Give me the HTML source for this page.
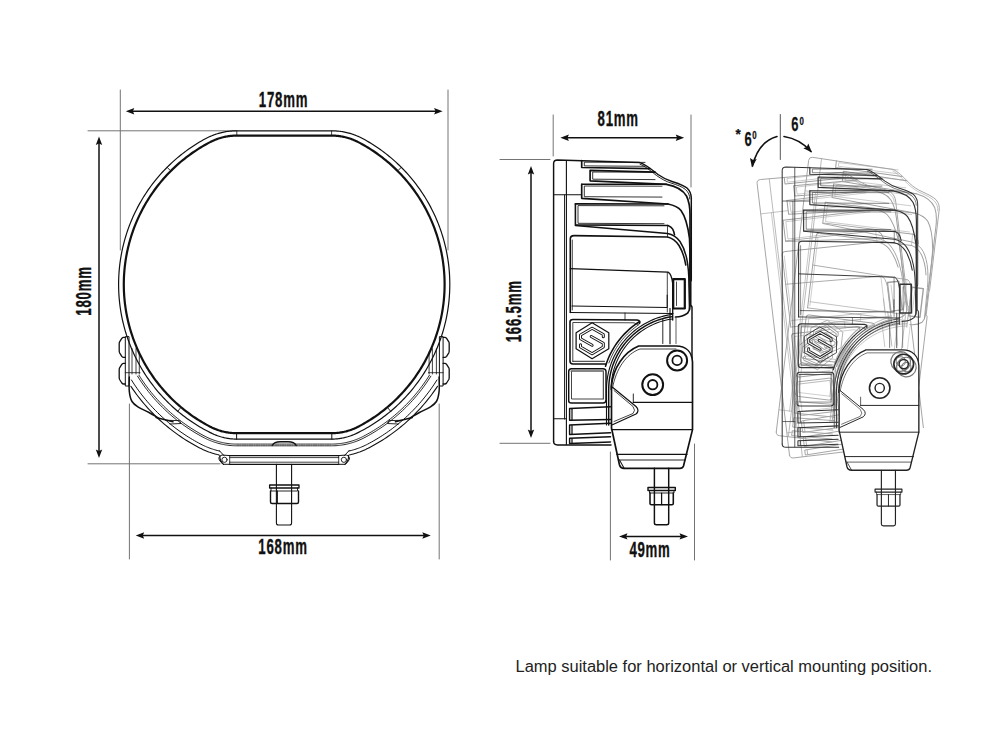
<!DOCTYPE html>
<html><head><meta charset="utf-8"><style>
html,body{margin:0;padding:0;background:#fff;width:1000px;height:750px;overflow:hidden}
svg{display:block}
</style></head><body>
<svg width="1000" height="750" viewBox="0 0 1000 750" stroke-linecap="round" stroke-linejoin="round">
<line x1="120.30" y1="90.00" x2="120.30" y2="250.00" stroke="#747474" stroke-width="1.0" />
<line x1="448.00" y1="90.00" x2="448.00" y2="250.00" stroke="#747474" stroke-width="1.0" />
<line x1="129.80" y1="111.20" x2="438.60" y2="111.20" stroke="#111" stroke-width="1.5" />
<path d="M125.80,111.20 L134.30,108.00 L132.90,111.20 L134.30,114.40 Z" fill="#111" stroke="none"/>
<path d="M442.60,111.20 L434.10,114.40 L435.50,111.20 L434.10,108.00 Z" fill="#111" stroke="none"/>
<g transform="translate(283.5,106.6) scale(0.6,1)"><text x="0" y="0" text-anchor="middle" font-family="Liberation Sans" font-weight="bold" font-size="22" letter-spacing="1.3" stroke="#111" stroke-width="0.35" fill="#111">178mm</text></g>
<line x1="88.00" y1="130.80" x2="236.00" y2="130.80" stroke="#747474" stroke-width="1.0" />
<line x1="88.00" y1="463.80" x2="220.00" y2="463.80" stroke="#747474" stroke-width="1.0" />
<line x1="99.00" y1="140.50" x2="99.00" y2="454.00" stroke="#111" stroke-width="1.5" />
<path d="M99.00,136.50 L102.20,145.00 L99.00,143.60 L95.80,145.00 Z" fill="#111" stroke="none"/>
<path d="M99.00,458.00 L95.80,449.50 L99.00,450.90 L102.20,449.50 Z" fill="#111" stroke="none"/>
<g transform="translate(91.1,291) rotate(-90) scale(0.6,1)"><text x="0" y="0" text-anchor="middle" font-family="Liberation Sans" font-weight="bold" font-size="22" letter-spacing="1.3" stroke="#111" stroke-width="0.35" fill="#111">180mm</text></g>
<line x1="129.40" y1="404.00" x2="129.40" y2="559.00" stroke="#747474" stroke-width="1.0" />
<line x1="439.20" y1="404.00" x2="439.20" y2="559.00" stroke="#747474" stroke-width="1.0" />
<line x1="139.70" y1="535.50" x2="426.80" y2="535.50" stroke="#111" stroke-width="1.5" />
<path d="M135.70,535.50 L144.20,532.30 L142.80,535.50 L144.20,538.70 Z" fill="#111" stroke="none"/>
<path d="M430.80,535.50 L422.30,538.70 L423.70,535.50 L422.30,532.30 Z" fill="#111" stroke="none"/>
<g transform="translate(283,553.6) scale(0.6,1)"><text x="0" y="0" text-anchor="middle" font-family="Liberation Sans" font-weight="bold" font-size="22" letter-spacing="1.3" stroke="#111" stroke-width="0.35" fill="#111">168mm</text></g>
<path d="M236.80,130.80 L239.17,130.80 L241.54,130.80 L243.91,130.80 L246.28,130.80 L248.65,130.80 L251.02,130.80 L253.39,130.80 L255.76,130.80 L258.13,130.80 L260.50,130.80 L262.87,130.80 L265.24,130.80 L267.61,130.80 L269.98,130.80 L272.35,130.80 L274.72,130.80 L277.09,130.80 L279.46,130.80 L281.83,130.80 L284.20,130.80 L286.57,130.80 L288.94,130.80 L291.31,130.80 L293.68,130.80 L296.05,130.80 L298.42,130.80 L300.79,130.80 L303.16,130.80 L305.53,130.80 L307.90,130.80 L310.27,130.80 L312.64,130.80 L315.01,130.80 L317.38,130.80 L319.75,130.80 L322.12,130.80 L324.49,130.80 L326.86,130.80 L329.23,130.80 L331.60,130.80 L332.69,130.81 L333.78,130.84 L334.87,130.88 L335.96,130.94 L337.05,131.03 L338.13,131.12 L339.22,131.24 L340.30,131.38 L341.38,131.53 L342.46,131.70 L343.53,131.89 L344.60,132.09 L345.67,132.32 L346.73,132.56 L347.79,132.82 L348.85,133.09 L349.90,133.39 L350.95,133.70 L351.99,134.03 L353.02,134.37 L354.05,134.74 L355.07,135.12 L356.09,135.51 L357.10,135.93 L358.10,136.35 L359.09,136.80 L360.08,137.26 L361.06,137.74 L362.03,138.24 L363.00,138.75 L364.99,139.84 L366.96,140.96 L368.92,142.11 L370.86,143.29 L372.79,144.49 L374.70,145.72 L376.59,146.97 L378.47,148.25 L380.33,149.55 L382.16,150.89 L383.99,152.24 L385.79,153.62 L387.57,155.03 L389.34,156.46 L391.08,157.91 L392.80,159.39 L394.51,160.89 L396.19,162.41 L397.85,163.96 L399.49,165.53 L401.11,167.12 L402.71,168.73 L404.28,170.37 L405.84,172.03 L407.37,173.70 L408.87,175.40 L410.35,177.12 L411.81,178.86 L413.25,180.62 L414.66,182.40 L416.04,184.20 L417.41,186.02 L418.74,187.85 L420.05,189.70 L421.34,191.58 L422.60,193.46 L423.83,195.37 L425.04,197.29 L426.22,199.23 L427.37,201.19 L428.50,203.16 L429.60,205.14 L430.68,207.14 L431.72,209.16 L432.74,211.19 L433.73,213.23 L434.69,215.29 L435.62,217.36 L436.53,219.44 L437.40,221.54 L438.25,223.64 L439.07,225.76 L439.86,227.89 L440.62,230.03 L441.35,232.18 L442.05,234.34 L442.72,236.51 L443.36,238.68 L443.98,240.87 L444.56,243.06 L445.11,245.27 L445.63,247.48 L446.12,249.69 L446.58,251.92 L447.01,254.15 L447.41,256.38 L447.78,258.62 L448.12,260.87 L448.43,263.12 L448.70,265.37 L448.95,267.63 L449.16,269.89 L449.35,272.15 L449.50,274.41 L449.62,276.68 L449.71,278.95 L449.77,281.22 L449.80,283.49 L449.79,285.76 L449.76,288.03 L449.69,290.30 L449.60,292.57 L449.47,294.84 L449.31,297.10 L449.12,299.36 L448.90,301.62 L448.65,303.88 L448.37,306.13 L448.05,308.38 L447.71,310.62 L447.34,312.86 L446.93,315.10 L446.49,317.33 L446.03,319.55 L445.53,321.76 L445.00,323.97 L444.45,326.17 L443.86,328.36 L443.24,330.55 L442.59,332.73 L441.91,334.89 L441.21,337.05 L440.47,339.20 L439.70,341.33 L438.91,343.46 L438.09,345.58 L437.23,347.68 L436.35,349.77 L435.44,351.85 L434.50,353.92 L433.53,355.97 L432.54,358.01 L431.52,360.04 L430.46,362.05 L429.39,364.05 L428.28,366.03 L427.15,368.00 L425.99,369.95 L424.80,371.89 L423.59,373.81 L422.35,375.71 L421.09,377.60 L419.79,379.47 L418.48,381.32 L417.14,383.15 L415.77,384.96 L414.38,386.75 L412.96,388.53 L411.52,390.29 L410.06,392.02 L408.57,393.74 L407.06,395.43 L405.53,397.11 L403.97,398.76 L402.39,400.39 L400.79,402.00 L399.17,403.59 L397.52,405.15 L395.86,406.69 L394.17,408.21 L392.46,409.71 L390.74,411.18 L388.99,412.63 L387.22,414.05 L385.43,415.45 L383.63,416.83 L381.80,418.18 L379.96,419.51 L378.10,420.81 L376.22,422.08 L374.32,423.33 L372.41,424.55 L370.48,425.75 L368.53,426.92 L366.57,428.06 L364.59,429.18 L362.60,430.27 L360.59,431.33 L358.57,432.36 L356.54,433.37 L355.76,433.74 L354.98,434.09 L354.19,434.44 L353.40,434.77 L352.60,435.10 L351.80,435.41 L350.99,435.71 L350.18,435.99 L349.36,436.27 L348.55,436.53 L347.72,436.78 L346.89,437.01 L346.06,437.24 L345.23,437.45 L344.39,437.65 L343.55,437.83 L342.71,438.01 L341.87,438.17 L341.02,438.32 L340.17,438.45 L339.32,438.58 L338.47,438.69 L337.61,438.78 L336.75,438.87 L335.90,438.94 L335.04,439.00 L334.18,439.04 L333.32,439.07 L332.46,439.09 L331.60,439.10 L329.23,439.10 L326.86,439.10 L324.49,439.10 L322.12,439.10 L319.75,439.10 L317.38,439.10 L315.01,439.10 L312.64,439.10 L310.27,439.10 L307.90,439.10 L305.53,439.10 L303.16,439.10 L300.79,439.10 L298.42,439.10 L296.05,439.10 L293.68,439.10 L291.31,439.10 L288.94,439.10 L286.57,439.10 L284.20,439.10 L281.83,439.10 L279.46,439.10 L277.09,439.10 L274.72,439.10 L272.35,439.10 L269.98,439.10 L267.61,439.10 L265.24,439.10 L262.87,439.10 L260.50,439.10 L258.13,439.10 L255.76,439.10 L253.39,439.10 L251.02,439.10 L248.65,439.10 L246.28,439.10 L243.91,439.10 L241.54,439.10 L239.17,439.10 L236.80,439.10 L235.94,439.09 L235.08,439.07 L234.22,439.04 L233.36,439.00 L232.50,438.94 L231.65,438.87 L230.79,438.78 L229.93,438.69 L229.08,438.58 L228.23,438.45 L227.38,438.32 L226.53,438.17 L225.69,438.01 L224.85,437.83 L224.01,437.65 L223.17,437.45 L222.34,437.24 L221.51,437.01 L220.68,436.78 L219.85,436.53 L219.04,436.27 L218.22,435.99 L217.41,435.71 L216.60,435.41 L215.80,435.10 L215.00,434.77 L214.21,434.44 L213.42,434.09 L212.64,433.74 L211.86,433.37 L209.83,432.36 L207.81,431.33 L205.80,430.27 L203.81,429.18 L201.83,428.06 L199.87,426.92 L197.92,425.75 L195.99,424.55 L194.08,423.33 L192.18,422.08 L190.30,420.81 L188.44,419.51 L186.60,418.18 L184.77,416.83 L182.97,415.45 L181.18,414.05 L179.41,412.63 L177.66,411.18 L175.94,409.71 L174.23,408.21 L172.54,406.69 L170.88,405.15 L169.23,403.59 L167.61,402.00 L166.01,400.39 L164.43,398.76 L162.87,397.11 L161.34,395.43 L159.83,393.74 L158.34,392.02 L156.88,390.29 L155.44,388.53 L154.02,386.75 L152.63,384.96 L151.26,383.15 L149.92,381.32 L148.61,379.47 L147.31,377.60 L146.05,375.71 L144.81,373.81 L143.60,371.89 L142.41,369.95 L141.25,368.00 L140.12,366.03 L139.01,364.05 L137.94,362.05 L136.88,360.04 L135.86,358.01 L134.87,355.97 L133.90,353.92 L132.96,351.85 L132.05,349.77 L131.17,347.68 L130.31,345.58 L129.49,343.46 L128.70,341.33 L127.93,339.20 L127.19,337.05 L126.49,334.89 L125.81,332.73 L125.16,330.55 L124.54,328.36 L123.95,326.17 L123.40,323.97 L122.87,321.76 L122.37,319.55 L121.91,317.33 L121.47,315.10 L121.06,312.86 L120.69,310.62 L120.35,308.38 L120.03,306.13 L119.75,303.88 L119.50,301.62 L119.28,299.36 L119.09,297.10 L118.93,294.84 L118.80,292.57 L118.71,290.30 L118.64,288.03 L118.61,285.76 L118.60,283.49 L118.63,281.22 L118.69,278.95 L118.78,276.68 L118.90,274.41 L119.05,272.15 L119.24,269.89 L119.45,267.63 L119.70,265.37 L119.97,263.12 L120.28,260.87 L120.62,258.62 L120.99,256.38 L121.39,254.15 L121.82,251.92 L122.28,249.69 L122.77,247.48 L123.29,245.27 L123.84,243.06 L124.42,240.87 L125.04,238.68 L125.68,236.51 L126.35,234.34 L127.05,232.18 L127.78,230.03 L128.54,227.89 L129.33,225.76 L130.15,223.64 L131.00,221.54 L131.87,219.44 L132.78,217.36 L133.71,215.29 L134.67,213.23 L135.66,211.19 L136.68,209.16 L137.72,207.14 L138.80,205.14 L139.90,203.16 L141.03,201.19 L142.18,199.23 L143.36,197.29 L144.57,195.37 L145.80,193.46 L147.06,191.58 L148.35,189.70 L149.66,187.85 L150.99,186.02 L152.36,184.20 L153.74,182.40 L155.15,180.62 L156.59,178.86 L158.05,177.12 L159.53,175.40 L161.03,173.70 L162.56,172.03 L164.12,170.37 L165.69,168.73 L167.29,167.12 L168.91,165.53 L170.55,163.96 L172.21,162.41 L173.89,160.89 L175.60,159.39 L177.32,157.91 L179.06,156.46 L180.83,155.03 L182.61,153.62 L184.41,152.24 L186.24,150.89 L188.07,149.55 L189.93,148.25 L191.81,146.97 L193.70,145.72 L195.61,144.49 L197.54,143.29 L199.48,142.11 L201.44,140.96 L203.41,139.84 L205.40,138.75 L206.37,138.24 L207.34,137.74 L208.32,137.26 L209.31,136.80 L210.30,136.35 L211.30,135.93 L212.31,135.51 L213.33,135.12 L214.35,134.74 L215.38,134.37 L216.41,134.03 L217.45,133.70 L218.50,133.39 L219.55,133.09 L220.61,132.82 L221.67,132.56 L222.73,132.32 L223.80,132.09 L224.87,131.89 L225.94,131.70 L227.02,131.53 L228.10,131.38 L229.18,131.24 L230.27,131.12 L231.35,131.03 L232.44,130.94 L233.53,130.88 L234.62,130.84 L235.71,130.81 Z" stroke="#111" stroke-width="1.2" fill="none" />
<path d="M236.80,135.60 L239.17,135.60 L241.54,135.60 L243.91,135.60 L246.28,135.60 L248.65,135.60 L251.02,135.60 L253.39,135.60 L255.76,135.60 L258.13,135.60 L260.50,135.60 L262.87,135.60 L265.24,135.60 L267.61,135.60 L269.98,135.60 L272.35,135.60 L274.72,135.60 L277.09,135.60 L279.46,135.60 L281.83,135.60 L284.20,135.60 L286.57,135.60 L288.94,135.60 L291.31,135.60 L293.68,135.60 L296.05,135.60 L298.42,135.60 L300.79,135.60 L303.16,135.60 L305.53,135.60 L307.90,135.60 L310.27,135.60 L312.64,135.60 L315.01,135.60 L317.38,135.60 L319.75,135.60 L322.12,135.60 L324.49,135.60 L326.86,135.60 L329.23,135.60 L331.60,135.60 L332.52,135.61 L333.45,135.63 L334.37,135.67 L335.29,135.72 L336.22,135.78 L337.14,135.87 L338.06,135.96 L338.97,136.07 L339.89,136.20 L340.80,136.34 L341.71,136.49 L342.62,136.66 L343.53,136.84 L344.43,137.04 L345.33,137.26 L346.23,137.48 L347.12,137.72 L348.01,137.98 L348.89,138.25 L349.77,138.53 L350.64,138.83 L351.51,139.14 L352.38,139.47 L353.24,139.81 L354.09,140.16 L354.94,140.53 L355.78,140.91 L356.62,141.30 L357.45,141.71 L358.27,142.13 L360.20,143.15 L362.12,144.20 L364.03,145.28 L365.92,146.38 L367.79,147.50 L369.65,148.66 L371.49,149.83 L373.32,151.04 L375.13,152.26 L376.92,153.52 L378.70,154.79 L380.46,156.09 L382.20,157.42 L383.92,158.77 L385.62,160.14 L387.31,161.53 L388.97,162.95 L390.62,164.39 L392.25,165.85 L393.85,167.33 L395.44,168.84 L397.00,170.37 L398.55,171.92 L400.07,173.49 L401.57,175.08 L403.05,176.69 L404.51,178.32 L405.95,179.97 L407.36,181.64 L408.75,183.33 L410.11,185.03 L411.46,186.76 L412.78,188.50 L414.07,190.26 L415.34,192.04 L416.59,193.84 L417.81,195.65 L419.01,197.48 L420.18,199.33 L421.33,201.19 L422.45,203.07 L423.55,204.96 L424.62,206.87 L425.66,208.79 L426.68,210.73 L427.67,212.68 L428.64,214.64 L429.57,216.62 L430.48,218.60 L431.37,220.60 L432.22,222.62 L433.05,224.64 L433.85,226.68 L434.63,228.72 L435.37,230.78 L436.09,232.84 L436.78,234.92 L437.44,237.00 L438.07,239.10 L438.67,241.20 L439.25,243.31 L439.79,245.43 L440.31,247.55 L440.80,249.68 L441.26,251.82 L441.69,253.97 L442.09,256.12 L442.46,258.27 L442.80,260.43 L443.11,262.60 L443.39,264.77 L443.65,266.94 L443.87,269.11 L444.06,271.29 L444.23,273.47 L444.36,275.66 L444.47,277.84 L444.54,280.03 L444.59,282.21 L444.60,284.40 L444.59,286.59 L444.54,288.77 L444.47,290.96 L444.36,293.14 L444.23,295.33 L444.06,297.51 L443.87,299.69 L443.65,301.86 L443.39,304.03 L443.11,306.20 L442.80,308.37 L442.46,310.53 L442.09,312.68 L441.69,314.83 L441.26,316.98 L440.80,319.12 L440.31,321.25 L439.79,323.37 L439.25,325.49 L438.67,327.60 L438.07,329.70 L437.44,331.80 L436.78,333.88 L436.09,335.96 L435.37,338.02 L434.63,340.08 L433.85,342.12 L433.05,344.16 L432.22,346.18 L431.37,348.20 L430.48,350.20 L429.57,352.18 L428.64,354.16 L427.67,356.12 L426.68,358.07 L425.66,360.01 L424.62,361.93 L423.55,363.84 L422.45,365.73 L421.33,367.61 L420.18,369.47 L419.01,371.32 L417.81,373.15 L416.59,374.96 L415.34,376.76 L414.07,378.54 L412.78,380.30 L411.46,382.04 L410.11,383.77 L408.75,385.47 L407.36,387.16 L405.95,388.83 L404.51,390.48 L403.05,392.11 L401.57,393.72 L400.07,395.31 L398.55,396.88 L397.00,398.43 L395.44,399.96 L393.85,401.47 L392.25,402.95 L390.62,404.41 L388.97,405.85 L387.31,407.27 L385.62,408.66 L383.92,410.03 L382.20,411.38 L380.46,412.71 L378.70,414.01 L376.92,415.28 L375.13,416.54 L373.32,417.76 L371.49,418.97 L369.65,420.14 L367.79,421.30 L365.92,422.42 L364.03,423.52 L362.12,424.60 L360.20,425.65 L358.27,426.67 L357.45,427.09 L356.62,427.50 L355.78,427.89 L354.94,428.27 L354.09,428.64 L353.24,428.99 L352.38,429.33 L351.51,429.66 L350.64,429.97 L349.77,430.27 L348.89,430.55 L348.01,430.82 L347.12,431.08 L346.23,431.32 L345.33,431.54 L344.43,431.76 L343.53,431.96 L342.62,432.14 L341.71,432.31 L340.80,432.46 L339.89,432.60 L338.97,432.73 L338.06,432.84 L337.14,432.93 L336.22,433.02 L335.29,433.08 L334.37,433.13 L333.45,433.17 L332.52,433.19 L331.60,433.20 L329.23,433.20 L326.86,433.20 L324.49,433.20 L322.12,433.20 L319.75,433.20 L317.38,433.20 L315.01,433.20 L312.64,433.20 L310.27,433.20 L307.90,433.20 L305.53,433.20 L303.16,433.20 L300.79,433.20 L298.42,433.20 L296.05,433.20 L293.68,433.20 L291.31,433.20 L288.94,433.20 L286.57,433.20 L284.20,433.20 L281.83,433.20 L279.46,433.20 L277.09,433.20 L274.72,433.20 L272.35,433.20 L269.98,433.20 L267.61,433.20 L265.24,433.20 L262.87,433.20 L260.50,433.20 L258.13,433.20 L255.76,433.20 L253.39,433.20 L251.02,433.20 L248.65,433.20 L246.28,433.20 L243.91,433.20 L241.54,433.20 L239.17,433.20 L236.80,433.20 L235.88,433.19 L234.95,433.17 L234.03,433.13 L233.11,433.08 L232.18,433.02 L231.26,432.93 L230.34,432.84 L229.43,432.73 L228.51,432.60 L227.60,432.46 L226.69,432.31 L225.78,432.14 L224.87,431.96 L223.97,431.76 L223.07,431.54 L222.17,431.32 L221.28,431.08 L220.39,430.82 L219.51,430.55 L218.63,430.27 L217.76,429.97 L216.89,429.66 L216.02,429.33 L215.16,428.99 L214.31,428.64 L213.46,428.27 L212.62,427.89 L211.78,427.50 L210.95,427.09 L210.13,426.67 L208.20,425.65 L206.28,424.60 L204.37,423.52 L202.48,422.42 L200.61,421.30 L198.75,420.14 L196.91,418.97 L195.08,417.76 L193.27,416.54 L191.48,415.28 L189.70,414.01 L187.94,412.71 L186.20,411.38 L184.48,410.03 L182.78,408.66 L181.09,407.27 L179.43,405.85 L177.78,404.41 L176.15,402.95 L174.55,401.47 L172.96,399.96 L171.40,398.43 L169.85,396.88 L168.33,395.31 L166.83,393.72 L165.35,392.11 L163.89,390.48 L162.45,388.83 L161.04,387.16 L159.65,385.47 L158.29,383.77 L156.94,382.04 L155.62,380.30 L154.33,378.54 L153.06,376.76 L151.81,374.96 L150.59,373.15 L149.39,371.32 L148.22,369.47 L147.07,367.61 L145.95,365.73 L144.85,363.84 L143.78,361.93 L142.74,360.01 L141.72,358.07 L140.73,356.12 L139.76,354.16 L138.83,352.18 L137.92,350.20 L137.03,348.20 L136.18,346.18 L135.35,344.16 L134.55,342.12 L133.77,340.08 L133.03,338.02 L132.31,335.96 L131.62,333.88 L130.96,331.80 L130.33,329.70 L129.73,327.60 L129.15,325.49 L128.61,323.37 L128.09,321.25 L127.60,319.12 L127.14,316.98 L126.71,314.83 L126.31,312.68 L125.94,310.53 L125.60,308.37 L125.29,306.20 L125.01,304.03 L124.75,301.86 L124.53,299.69 L124.34,297.51 L124.17,295.33 L124.04,293.14 L123.93,290.96 L123.86,288.77 L123.81,286.59 L123.80,284.40 L123.81,282.21 L123.86,280.03 L123.93,277.84 L124.04,275.66 L124.17,273.47 L124.34,271.29 L124.53,269.11 L124.75,266.94 L125.01,264.77 L125.29,262.60 L125.60,260.43 L125.94,258.27 L126.31,256.12 L126.71,253.97 L127.14,251.82 L127.60,249.68 L128.09,247.55 L128.61,245.43 L129.15,243.31 L129.73,241.20 L130.33,239.10 L130.96,237.00 L131.62,234.92 L132.31,232.84 L133.03,230.78 L133.77,228.72 L134.55,226.68 L135.35,224.64 L136.18,222.62 L137.03,220.60 L137.92,218.60 L138.83,216.62 L139.76,214.64 L140.73,212.68 L141.72,210.73 L142.74,208.79 L143.78,206.87 L144.85,204.96 L145.95,203.07 L147.07,201.19 L148.22,199.33 L149.39,197.48 L150.59,195.65 L151.81,193.84 L153.06,192.04 L154.33,190.26 L155.62,188.50 L156.94,186.76 L158.29,185.03 L159.65,183.33 L161.04,181.64 L162.45,179.97 L163.89,178.32 L165.35,176.69 L166.83,175.08 L168.33,173.49 L169.85,171.92 L171.40,170.37 L172.96,168.84 L174.55,167.33 L176.15,165.85 L177.78,164.39 L179.43,162.95 L181.09,161.53 L182.78,160.14 L184.48,158.77 L186.20,157.42 L187.94,156.09 L189.70,154.79 L191.48,153.52 L193.27,152.26 L195.08,151.04 L196.91,149.83 L198.75,148.66 L200.61,147.50 L202.48,146.38 L204.37,145.28 L206.28,144.20 L208.20,143.15 L210.13,142.13 L210.95,141.71 L211.78,141.30 L212.62,140.91 L213.46,140.53 L214.31,140.16 L215.16,139.81 L216.02,139.47 L216.89,139.14 L217.76,138.83 L218.63,138.53 L219.51,138.25 L220.39,137.98 L221.28,137.72 L222.17,137.48 L223.07,137.26 L223.97,137.04 L224.87,136.84 L225.78,136.66 L226.69,136.49 L227.60,136.34 L228.51,136.20 L229.43,136.07 L230.34,135.96 L231.26,135.87 L232.18,135.78 L233.11,135.72 L234.03,135.67 L234.95,135.63 L235.88,135.61 Z" stroke="#111" stroke-width="2.2" fill="none" />
<line x1="170.07" y1="170.27" x2="166.96" y2="167.16" stroke="#111" stroke-width="0.9" />
<line x1="398.33" y1="170.27" x2="401.44" y2="167.16" stroke="#111" stroke-width="0.9" />
<line x1="387.95" y1="408.04" x2="390.77" y2="411.41" stroke="#111" stroke-width="0.9" />
<line x1="180.45" y1="408.04" x2="177.63" y2="411.41" stroke="#111" stroke-width="0.9" />
<line x1="236.60" y1="433.50" x2="236.60" y2="439.20" stroke="#111" stroke-width="1.0" />
<line x1="331.80" y1="433.50" x2="331.80" y2="439.20" stroke="#111" stroke-width="1.0" />
<line x1="236.80" y1="130.80" x2="236.80" y2="135.40" stroke="#111" stroke-width="0.8" />
<line x1="331.60" y1="130.80" x2="331.60" y2="135.40" stroke="#111" stroke-width="0.8" />
<line x1="156.00" y1="417.50" x2="173.00" y2="421.80" stroke="#111" stroke-width="1.4" />
<line x1="412.40" y1="417.50" x2="395.40" y2="421.80" stroke="#111" stroke-width="1.4" />
<path d="M429.42,375.25 L428.17,377.22 L426.89,379.18 L425.59,381.11 L424.26,383.03 L422.90,384.93 L421.51,386.81 L420.10,388.68 L418.67,390.52 L417.21,392.34 L415.73,394.15 L414.22,395.93 L412.69,397.69 L411.13,399.43 L409.55,401.15 L407.95,402.85 L406.32,404.53 L404.67,406.18 L403.00,407.81 L401.30,409.42 L399.59,411.01 L397.85,412.57 L396.09,414.11 L394.31,415.62 L392.52,417.11 L390.70,418.57 L388.86,420.01 L387.00,421.43 L385.12,422.82 L383.22,424.18 L381.31,425.52 L379.38,426.83 L377.43,428.11 L375.46,429.37 L373.47,430.60 L371.47,431.80 L369.45,432.98 L367.42,434.13 L365.37,435.25 L363.31,436.34 L362.33,436.84 L361.34,437.32 L360.35,437.79 L359.35,438.24 L358.34,438.68 L357.32,439.10 L356.30,439.50 L355.27,439.89 L354.24,440.26 L353.20,440.61 L352.15,440.95 L351.10,441.27 L350.05,441.58 L348.99,441.86 L347.92,442.13 L346.85,442.38 L345.78,442.62 L344.70,442.84 L343.62,443.04 L342.54,443.22 L341.45,443.39 L340.36,443.54 L339.27,443.67 L338.18,443.78 L337.09,443.88 L335.99,443.96 L334.89,444.02 L333.80,444.06 L332.70,444.09 L331.60,444.10 L329.23,444.10 L326.86,444.10 L324.49,444.10 L322.12,444.10 L319.75,444.10 L317.38,444.10 L315.01,444.10 L312.64,444.10 L310.27,444.10 L307.90,444.10 L305.53,444.10 L303.16,444.10 L300.79,444.10 L298.42,444.10 L296.05,444.10 L293.68,444.10 L291.31,444.10 L288.94,444.10 L286.57,444.10 L284.20,444.10 L281.83,444.10 L279.46,444.10 L277.09,444.10 L274.72,444.10 L272.35,444.10 L269.98,444.10 L267.61,444.10 L265.24,444.10 L262.87,444.10 L260.50,444.10 L258.13,444.10 L255.76,444.10 L253.39,444.10 L251.02,444.10 L248.65,444.10 L246.28,444.10 L243.91,444.10 L241.54,444.10 L239.17,444.10 L236.80,444.10 L235.70,444.09 L234.60,444.06 L233.51,444.02 L232.41,443.96 L231.31,443.88 L230.22,443.78 L229.13,443.67 L228.04,443.54 L226.95,443.39 L225.86,443.22 L224.78,443.04 L223.70,442.84 L222.62,442.62 L221.55,442.38 L220.48,442.13 L219.41,441.86 L218.35,441.58 L217.30,441.27 L216.25,440.95 L215.20,440.61 L214.16,440.26 L213.13,439.89 L212.10,439.50 L211.08,439.10 L210.06,438.68 L209.05,438.24 L208.05,437.79 L207.06,437.32 L206.07,436.84 L205.09,436.34 L203.03,435.25 L200.98,434.13 L198.95,432.98 L196.93,431.80 L194.93,430.60 L192.94,429.37 L190.97,428.11 L189.02,426.83 L187.09,425.52 L185.18,424.18 L183.28,422.82 L181.40,421.43 L179.54,420.01 L177.70,418.57 L175.88,417.11 L174.09,415.62 L172.31,414.11 L170.55,412.57 L168.81,411.01 L167.10,409.42 L165.40,407.81 L163.73,406.18 L162.08,404.53 L160.45,402.85 L158.85,401.15 L157.27,399.43 L155.71,397.69 L154.18,395.93 L152.67,394.15 L151.19,392.34 L149.73,390.52 L148.30,388.68 L146.89,386.81 L145.50,384.93 L144.14,383.03 L142.81,381.11 L141.51,379.18 L140.23,377.22 L138.98,375.25" stroke="#111" stroke-width="0.9" fill="none" />
<path d="M430.86,376.15 L429.60,378.14 L428.31,380.12 L426.99,382.07 L425.65,384.01 L424.27,385.93 L422.88,387.83 L421.45,389.71 L420.00,391.57 L418.53,393.41 L417.03,395.24 L415.51,397.04 L413.96,398.82 L412.39,400.58 L410.79,402.31 L409.17,404.03 L407.53,405.72 L405.87,407.39 L404.18,409.04 L402.47,410.66 L400.73,412.26 L398.98,413.84 L397.20,415.39 L395.41,416.92 L393.59,418.43 L391.75,419.90 L389.90,421.36 L388.02,422.79 L386.12,424.19 L384.21,425.57 L382.27,426.92 L380.32,428.24 L378.35,429.54 L376.36,430.81 L374.36,432.05 L372.34,433.27 L370.30,434.45 L368.24,435.61 L366.18,436.75 L364.09,437.85 L363.09,438.36 L362.08,438.86 L361.06,439.34 L360.03,439.80 L359.00,440.25 L357.96,440.68 L356.91,441.09 L355.86,441.49 L354.80,441.87 L353.73,442.23 L352.66,442.57 L351.58,442.90 L350.50,443.21 L349.42,443.51 L348.32,443.78 L347.23,444.04 L346.13,444.28 L345.03,444.51 L343.92,444.71 L342.81,444.90 L341.70,445.07 L340.58,445.22 L339.46,445.36 L338.34,445.48 L337.22,445.57 L336.10,445.66 L334.98,445.72 L333.85,445.76 L332.73,445.79 L331.60,445.80 L329.23,445.80 L326.86,445.80 L324.49,445.80 L322.12,445.80 L319.75,445.80 L317.38,445.80 L315.01,445.80 L312.64,445.80 L310.27,445.80 L307.90,445.80 L305.53,445.80 L303.16,445.80 L300.79,445.80 L298.42,445.80 L296.05,445.80 L293.68,445.80 L291.31,445.80 L288.94,445.80 L286.57,445.80 L284.20,445.80 L281.83,445.80 L279.46,445.80 L277.09,445.80 L274.72,445.80 L272.35,445.80 L269.98,445.80 L267.61,445.80 L265.24,445.80 L262.87,445.80 L260.50,445.80 L258.13,445.80 L255.76,445.80 L253.39,445.80 L251.02,445.80 L248.65,445.80 L246.28,445.80 L243.91,445.80 L241.54,445.80 L239.17,445.80 L236.80,445.80 L235.67,445.79 L234.55,445.76 L233.42,445.72 L232.30,445.66 L231.18,445.57 L230.06,445.48 L228.94,445.36 L227.82,445.22 L226.70,445.07 L225.59,444.90 L224.48,444.71 L223.37,444.51 L222.27,444.28 L221.17,444.04 L220.08,443.78 L218.98,443.51 L217.90,443.21 L216.82,442.90 L215.74,442.57 L214.67,442.23 L213.60,441.87 L212.54,441.49 L211.49,441.09 L210.44,440.68 L209.40,440.25 L208.37,439.80 L207.34,439.34 L206.32,438.86 L205.31,438.36 L204.31,437.85 L202.22,436.75 L200.16,435.61 L198.10,434.45 L196.06,433.27 L194.04,432.05 L192.04,430.81 L190.05,429.54 L188.08,428.24 L186.13,426.92 L184.19,425.57 L182.28,424.19 L180.38,422.79 L178.50,421.36 L176.65,419.90 L174.81,418.43 L172.99,416.92 L171.20,415.39 L169.42,413.84 L167.67,412.26 L165.93,410.66 L164.22,409.04 L162.53,407.39 L160.87,405.72 L159.23,404.03 L157.61,402.31 L156.01,400.58 L154.44,398.82 L152.89,397.04 L151.37,395.24 L149.87,393.41 L148.40,391.57 L146.95,389.71 L145.52,387.83 L144.13,385.93 L142.75,384.01 L141.41,382.07 L140.09,380.12 L138.80,378.14 L137.54,376.15" stroke="#111" stroke-width="0.9" fill="none" />
<path d="M436.97,379.97 L435.65,382.04 L434.31,384.10 L432.93,386.14 L431.53,388.16 L430.10,390.16 L428.65,392.13 L427.17,394.09 L425.66,396.03 L424.12,397.95 L422.56,399.85 L420.97,401.72 L419.36,403.58 L417.72,405.41 L416.06,407.22 L414.37,409.01 L412.66,410.77 L410.93,412.51 L409.17,414.22 L407.39,415.92 L405.58,417.58 L403.76,419.23 L401.91,420.84 L400.04,422.44 L398.14,424.00 L396.23,425.54 L394.29,427.06 L392.34,428.55 L390.36,430.01 L388.37,431.44 L386.35,432.85 L384.32,434.23 L382.27,435.58 L380.20,436.90 L378.11,438.20 L376.00,439.46 L373.88,440.70 L371.74,441.91 L369.59,443.09 L367.42,444.24 L366.31,444.80 L365.20,445.35 L364.07,445.87 L362.94,446.38 L361.80,446.88 L360.66,447.35 L359.50,447.81 L358.34,448.24 L357.17,448.66 L356.00,449.06 L354.82,449.44 L353.63,449.81 L352.44,450.15 L351.24,450.47 L350.04,450.78 L348.83,451.06" stroke="#111" stroke-width="1.0" fill="none" />
<path d="M219.57,451.06 L218.36,450.78 L217.16,450.47 L215.96,450.15 L214.77,449.81 L213.58,449.44 L212.40,449.06 L211.23,448.66 L210.06,448.24 L208.90,447.81 L207.74,447.35 L206.60,446.88 L205.46,446.38 L204.33,445.87 L203.20,445.35 L202.09,444.80 L200.98,444.24 L198.81,443.09 L196.66,441.91 L194.52,440.70 L192.40,439.46 L190.29,438.20 L188.20,436.90 L186.13,435.58 L184.08,434.23 L182.05,432.85 L180.03,431.44 L178.04,430.01 L176.06,428.55 L174.11,427.06 L172.17,425.54 L170.26,424.00 L168.36,422.44 L166.49,420.84 L164.64,419.23 L162.82,417.58 L161.01,415.92 L159.23,414.22 L157.47,412.51 L155.74,410.77 L154.03,409.01 L152.34,407.22 L150.68,405.41 L149.04,403.58 L147.43,401.72 L145.84,399.85 L144.28,397.95 L142.74,396.03 L141.23,394.09 L139.75,392.13 L138.30,390.16 L136.87,388.16 L135.47,386.14 L134.09,384.10 L132.75,382.04 L131.43,379.97" stroke="#111" stroke-width="1.0" fill="none" />
<path d="M437.55,386.26 L436.15,388.34 L434.72,390.40 L433.26,392.44 L431.77,394.47 L430.26,396.47 L428.72,398.45 L427.15,400.41 L425.55,402.35 L423.93,404.26 L422.29,406.16 L420.61,408.03 L418.92,409.88 L417.19,411.70 L415.44,413.50 L413.67,415.28 L411.87,417.03 L410.05,418.76 L408.21,420.47 L406.34,422.14 L404.45,423.80 L402.54,425.42 L400.61,427.02 L398.65,428.60 L396.68,430.15 L394.68,431.67 L392.66,433.16 L390.62,434.62 L388.57,436.06 L386.49,437.47 L384.39,438.85 L382.28,440.20 L380.14,441.52 L377.99,442.82 L375.82,444.08 L373.64,445.32 L371.43,446.52 L369.22,447.69 L368.06,448.29 L366.89,448.86 L365.71,449.42 L364.52,449.95 L363.32,450.47 L362.12,450.97 L360.91,451.45 L359.69,451.91 L358.46,452.34 L357.22,452.76 L355.98,453.16 L354.74,453.54 L353.48,453.91 L352.23,454.25 L350.96,454.57 L349.69,454.86" stroke="#111" stroke-width="1.1" fill="none" />
<path d="M218.71,454.86 L217.44,454.57 L216.17,454.25 L214.92,453.91 L213.66,453.54 L212.42,453.16 L211.18,452.76 L209.94,452.34 L208.71,451.91 L207.49,451.45 L206.28,450.97 L205.08,450.47 L203.88,449.95 L202.69,449.42 L201.51,448.86 L200.34,448.29 L199.18,447.69 L196.97,446.52 L194.76,445.32 L192.58,444.08 L190.41,442.82 L188.26,441.52 L186.12,440.20 L184.01,438.85 L181.91,437.47 L179.83,436.06 L177.78,434.62 L175.74,433.16 L173.72,431.67 L171.72,430.15 L169.75,428.60 L167.79,427.02 L165.86,425.42 L163.95,423.80 L162.06,422.14 L160.19,420.47 L158.35,418.76 L156.53,417.03 L154.73,415.28 L152.96,413.50 L151.21,411.70 L149.48,409.88 L147.79,408.03 L146.11,406.16 L144.47,404.26 L142.85,402.35 L141.25,400.41 L139.68,398.45 L138.14,396.47 L136.63,394.47 L135.14,392.44 L133.68,390.40 L132.25,388.34 L130.85,386.26" stroke="#111" stroke-width="1.1" fill="none" />
<path d="M166,420.3 L179.5,420.6 L181,423.5 L170,424" stroke="#111" stroke-width="0.9" fill="none" />
<path d="M402.4,420.3 L388.9,420.6 L387.4,423.5 L398.4,424" stroke="#111" stroke-width="0.9" fill="none" />
<path d="M129.30,377.00 C129.30,379.38 128.85,387.22 129.30,391.30 C129.75,395.38 130.43,398.83 132.00,401.50 C133.57,404.17 135.87,405.47 138.70,407.30 C141.53,409.13 145.78,410.75 149.00,412.50 C152.22,414.25 156.50,416.92 158.00,417.80" stroke="#111" stroke-width="1.5" fill="none" />
<path d="M439.10,377.00 C439.10,379.38 439.55,387.22 439.10,391.30 C438.65,395.38 437.97,398.83 436.40,401.50 C434.83,404.17 432.53,405.47 429.70,407.30 C426.87,409.13 422.62,410.75 419.40,412.50 C416.18,414.25 411.90,416.92 410.40,417.80" stroke="#111" stroke-width="1.5" fill="none" />
<path d="M219.8,455.3 Q219.5,461 223.5,464.3" stroke="#111" stroke-width="1.1" fill="none" />
<path d="M219.3,450.6 Q221.5,453 224,455.6" stroke="#111" stroke-width="1.0" fill="none" />
<path d="M348.59999999999997,455.3 Q348.9,461 344.9,464.3" stroke="#111" stroke-width="1.1" fill="none" />
<path d="M349.09999999999997,450.6 Q346.9,453 344.4,455.6" stroke="#111" stroke-width="1.0" fill="none" />
<path d="M125.3,337 L125.3,386 L129,386 L129,337 Z" stroke="#111" stroke-width="1.0" fill="none" />
<path d="M132,348.7 L132,374 M136,348.7 L136,374 M139.3,352 L139.3,374 M125.3,372.7 L140,372.7" stroke="#111" stroke-width="0.8" fill="none" />
<path d="M125.3,337.3 L123.6,337.3 Q122.6,337.3 121.8,338.3 L119.6,341.8 Q119.2,342.6 119.2,343.8 L119.2,350.8 Q119.2,352.0 119.6,352.8 L121.8,356.3 Q122.6,357.3 123.6,357.3 L125.3,357.3" stroke="#111" stroke-width="1.3" fill="none" />
<path d="M125.3,363.3 L123.6,363.3 Q122.6,363.3 121.8,364.3 L119.6,367.8 Q119.2,368.6 119.2,369.8 L119.2,377.5 Q119.2,378.7 119.6,379.5 L121.8,383 Q122.6,384 123.6,384 L125.3,384" stroke="#111" stroke-width="1.3" fill="none" />
<path d="M443.09999999999997,337 L443.09999999999997,386 L439.4,386 L439.4,337 Z" stroke="#111" stroke-width="1.0" fill="none" />
<path d="M436.4,348.7 L436.4,374 M432.4,348.7 L432.4,374 M429.09999999999997,352 L429.09999999999997,374 M443.09999999999997,372.7 L428.4,372.7" stroke="#111" stroke-width="0.8" fill="none" />
<path d="M443.09999999999997,337.3 L444.79999999999995,337.3 Q445.79999999999995,337.3 446.59999999999997,338.3 L448.79999999999995,341.8 Q449.2,342.6 449.2,343.8 L449.2,350.8 Q449.2,352.0 448.79999999999995,352.8 L446.59999999999997,356.3 Q445.79999999999995,357.3 444.79999999999995,357.3 L443.09999999999997,357.3" stroke="#111" stroke-width="1.3" fill="none" />
<path d="M443.09999999999997,363.3 L444.79999999999995,363.3 Q445.79999999999995,363.3 446.59999999999997,364.3 L448.79999999999995,367.8 Q449.2,368.6 449.2,369.8 L449.2,377.5 Q449.2,378.7 448.79999999999995,379.5 L446.59999999999997,383 Q445.79999999999995,384 444.79999999999995,384 L443.09999999999997,384" stroke="#111" stroke-width="1.3" fill="none" />
<line x1="229.70" y1="455.60" x2="338.70" y2="455.60" stroke="#111" stroke-width="1.2" />
<line x1="229.70" y1="457.60" x2="338.70" y2="457.60" stroke="#111" stroke-width="0.8" />
<line x1="229.70" y1="462.20" x2="338.70" y2="462.20" stroke="#111" stroke-width="0.8" />
<line x1="229.70" y1="464.30" x2="338.70" y2="464.30" stroke="#111" stroke-width="1.2" />
<line x1="229.70" y1="455.60" x2="229.70" y2="464.30" stroke="#111" stroke-width="0.8" />
<line x1="338.70" y1="455.60" x2="338.70" y2="464.30" stroke="#111" stroke-width="0.8" />
<path d="M229.7,455.6 L222,455 Q217,457 220,461 L223,464.3 L229.7,464.3" stroke="#111" stroke-width="1.0" fill="none" />
<circle cx="224.5" cy="459.8" r="2.6" stroke="#111" stroke-width="0.9" fill="none"/>
<path d="M338.7,455.6 L346.4,455 Q351.4,457 348.4,461 L345.4,464.3 L338.7,464.3" stroke="#111" stroke-width="1.0" fill="none" />
<circle cx="343.9" cy="459.8" r="2.6" stroke="#111" stroke-width="0.9" fill="none"/>
<path d="M272.2,445.5 Q274.2,441.8 280.2,441.8 L288.2,441.8 Q294.2,441.8 296.2,445.5" stroke="#111" stroke-width="1.4" fill="none" />
<path d="M276.4,464.3 L276.4,523 Q276.4,525 278.4,525 L289.6,525 Q291.6,525 291.6,523 L291.6,464.3" stroke="#111" stroke-width="1.1" fill="none" />
<path d="M269.6,488 L269.6,485 L299,485 L299,488 Z" stroke="#111" stroke-width="1.3" fill="none" />
<path d="M271,488 L271,491 L297.5,491 L297.5,488" stroke="#111" stroke-width="0.9" fill="none" />
<path d="M270.5,491 L270.5,502 Q270.5,503.5 272,503.5 L297,503.5 Q298.5,503.5 298.5,502 L298.5,491" stroke="#111" stroke-width="1.4" fill="none" />
<line x1="277.50" y1="491.00" x2="277.50" y2="503.50" stroke="#111" stroke-width="0.9" />
<line x1="291.50" y1="491.00" x2="291.50" y2="503.50" stroke="#111" stroke-width="0.9" />
<line x1="553.20" y1="115.00" x2="553.20" y2="156.00" stroke="#747474" stroke-width="1.0" />
<line x1="691.00" y1="115.00" x2="691.00" y2="187.00" stroke="#747474" stroke-width="1.0" />
<line x1="564.40" y1="137.80" x2="680.20" y2="137.80" stroke="#111" stroke-width="1.5" />
<path d="M560.40,137.80 L568.90,134.60 L567.50,137.80 L568.90,141.00 Z" fill="#111" stroke="none"/>
<path d="M684.20,137.80 L675.70,141.00 L677.10,137.80 L675.70,134.60 Z" fill="#111" stroke="none"/>
<g transform="translate(618.2,125.8) scale(0.6,1)"><text x="0" y="0" text-anchor="middle" font-family="Liberation Sans" font-weight="bold" font-size="22" letter-spacing="1.3" stroke="#111" stroke-width="0.35" fill="#111">81mm</text></g>
<line x1="500.00" y1="159.50" x2="550.00" y2="159.50" stroke="#747474" stroke-width="1.0" />
<line x1="500.00" y1="443.30" x2="550.00" y2="443.30" stroke="#747474" stroke-width="1.0" />
<line x1="531.00" y1="170.00" x2="531.00" y2="434.00" stroke="#111" stroke-width="1.5" />
<path d="M531.00,166.00 L534.20,174.50 L531.00,173.10 L527.80,174.50 Z" fill="#111" stroke="none"/>
<path d="M531.00,438.00 L527.80,429.50 L531.00,430.90 L534.20,429.50 Z" fill="#111" stroke="none"/>
<g transform="translate(521,311.3) rotate(-90) scale(0.6,1)"><text x="0" y="0" text-anchor="middle" font-family="Liberation Sans" font-weight="bold" font-size="22" letter-spacing="1.3" stroke="#111" stroke-width="0.35" fill="#111">166.5mm</text></g>
<line x1="610.40" y1="452.00" x2="610.40" y2="560.00" stroke="#747474" stroke-width="1.0" />
<line x1="694.50" y1="444.00" x2="694.50" y2="560.00" stroke="#747474" stroke-width="1.0" />
<line x1="623.00" y1="536.40" x2="684.00" y2="536.40" stroke="#111" stroke-width="1.5" />
<path d="M619.00,536.40 L627.50,533.20 L626.10,536.40 L627.50,539.60 Z" fill="#111" stroke="none"/>
<path d="M688.00,536.40 L679.50,539.60 L680.90,536.40 L679.50,533.20 Z" fill="#111" stroke="none"/>
<g transform="translate(650,557) scale(0.6,1)"><text x="0" y="0" text-anchor="middle" font-family="Liberation Sans" font-weight="bold" font-size="22" letter-spacing="1.3" stroke="#111" stroke-width="0.35" fill="#111">49mm</text></g>
<g transform="" opacity="1.0"><path d="M553.6,441.5 L553.6,163.5 Q553.6,160 557.5,160 L639.8,162.6 C645,164 650,168 658,174.5 C663,178 667,180 672,181.5 C678,183.5 683,185 687,188 C690,191 691.3,194 691.3,198 L691.3,280 L690.8,282 L690.8,305 L692,307 L692,430" stroke="#111" stroke-width="1.46" fill="none"/><path d="M640,164.2 C644,165.5 649,169.5 656.5,175.5 C661.5,179 666,181.5 671,183 C677,185 682,186.5 685.5,189.5 C688.5,192.5 689.8,195 689.8,199" stroke="#111" stroke-width="0.90" fill="none"/><path d="M566.4,160.5 L566.4,444.5" stroke="#111" stroke-width="1.12" fill="none"/><path d="M564.5,195 L564.5,419" stroke="#111" stroke-width="0.90" fill="none"/><path d="M554,194.7 L581.5,194.7" stroke="#111" stroke-width="1.01" fill="none"/><path d="M554,418.8 L566.4,418.8" stroke="#111" stroke-width="1.01" fill="none"/><path d="M553.6,441.5 Q553.6,444.9 557.5,444.9 L611,444.9" stroke="#111" stroke-width="1.46" fill="none"/><path d="M650,168.6 L581.7,167.5 L581.7,160.5" stroke="#111" stroke-width="1.68" fill="none"/><path d="M655,172.2 L590.1,170.3 L590.1,180.8 L666.4,184.3 C676,186 683,190 686.5,196 C689,201 690,207 690,215 L690,280" stroke="#111" stroke-width="1.68" fill="none"/><path d="M581.7,184.3 L666.4,184.3" stroke="#111" stroke-width="1.46" fill="none"/><path d="M581.7,184.3 L581.7,198.3 L668,204 C675,205.5 679,208 681,210.5 C685,216 687.6,223.6 689.5,238.5 C690,248 690,255 690,264.7 L690,305.7 C690,309 689,311.5 687.6,313.2 C684,316 680,317 675.5,317" stroke="#111" stroke-width="1.68" fill="none"/><path d="M575.4,203.9 L668,204" stroke="#111" stroke-width="1.57" fill="none"/><path d="M575.4,203.9 L575.4,224.9 L668,225.5 C670.5,226.5 672,228 672.7,229.2 C673.6,231 674.2,233 674.5,234.8" stroke="#111" stroke-width="1.57" fill="none"/><path d="M667.5,225.2 L667.5,237" stroke="#111" stroke-width="0.78" fill="none"/><path d="M645,162.4 L584.3000000000001,162.2 L584.3000000000001,165.9 L645,166.3" stroke="#111" stroke-width="0.84" fill="none"/><path d="M655,172.20000000000002 L592.7,172.0 L592.7,179.20000000000002 L655,179.60000000000002" stroke="#111" stroke-width="0.84" fill="none"/><path d="M662,186.20000000000002 L584.3000000000001,186.0 L584.3000000000001,196.70000000000002 L662,197.10000000000002" stroke="#111" stroke-width="0.84" fill="none"/><path d="M664,205.8 L578.0,205.6 L578.0,223.3 L664,223.70000000000002" stroke="#111" stroke-width="0.84" fill="none"/><path d="M575.4,225.5 L667.5,233.5 C673,234.5 677,237.5 680,241.5 C683,246 685.5,252 687,260 C688.5,268 688.9,276 688.9,283.3 L689.5,309.5" stroke="#111" stroke-width="1.46" fill="none"/><path d="M570.3,312.5 L570.3,239 Q570.3,235.6 574,235.6 L667.5,237 C672,238 676,241 679,245.5 C682,250.5 684.5,257 685.8,265" stroke="#111" stroke-width="1.57" fill="none"/><path d="M572.3,240 L572.3,310" stroke="#111" stroke-width="0.78" fill="none"/><path d="M570.3,268.7 L640,271.2 L668,272.1 Q671.7,274 672.7,283.3 L672.7,320" stroke="#111" stroke-width="1.34" fill="none"/><path d="M667.3,272.4 L667.3,312" stroke="#111" stroke-width="0.78" fill="none"/><path d="M572,306 L667,307.5" stroke="#111" stroke-width="1.01" fill="none"/><path d="M570.3,312.5 L673,313.5" stroke="#111" stroke-width="1.23" fill="none"/><path d="M625,313 L625,320" stroke="#111" stroke-width="0.78" fill="none"/><path d="M673.2,279.2 L684.8,279.2 L684.8,308.5 L673.2,308.5 Z" stroke="#111" stroke-width="2.24" fill="none"/><path d="M676.5,282 L676.5,305.5" stroke="#111" stroke-width="0.78" fill="none"/><path d="M606,364 L573,364 Q570,364 570,361 L570,322 Q570,319.5 573,319.5 L637,320 Q641,320.5 639.5,323.5 L639.84,321.43 L637.43,323.00 L635.07,324.66 L632.77,326.40 L630.54,328.21 L628.37,330.11 L626.28,332.09 L624.25,334.13 L622.30,336.25 L620.43,338.44 L618.64,340.69 L616.92,343.01 L615.29,345.39 L613.75,347.82 L612.30,350.30 L610.93,352.84 L609.66,355.42 L608.48,358.05 L607.40,360.72 L606.41,363.43 L605.52,366.16 Q606.5,363.5 604,364" stroke="#111" stroke-width="1.57" fill="none"/><path d="M572.8,361.3 L572.8,322.5 L634,322.8 L638.72,324.79 L636.70,326.19 L634.73,327.66 L632.80,329.19 L630.92,330.79 L629.10,332.44 L627.33,334.14 L625.61,335.90 L623.95,337.71 L622.34,339.58 L620.80,341.49 L619.32,343.46 L617.89,345.46 L616.54,347.51 L615.24,349.61 L614.02,351.74 L612.86,353.91 L611.77,356.11 L610.75,358.35 L609.80,360.62 L608.92,362.92" stroke="#111" stroke-width="0.78" fill="none"/><path d="M671.92,314.44 L669.77,314.77 L667.63,315.17 L665.51,315.62 L663.39,316.14 L661.30,316.72 L659.22,317.35 L657.16,318.05 L655.12,318.81 L653.10,319.62 L651.10,320.49 L649.14,321.41 L647.20,322.40 L645.28,323.44 L643.40,324.53 L641.55,325.67 L639.74,326.87 L637.96,328.12 L636.21,329.42 L634.51,330.77 L632.84,332.17 L631.21,333.61 L629.63,335.10 L628.09,336.64 L626.59,338.22 L625.14,339.84 L623.74,341.50 L622.38,343.20 L621.08,344.94 L619.82,346.72 L618.62,348.53 L617.46,350.38 L616.37,352.25 L615.32,354.16 L614.33,356.10 L613.40,358.06 L612.52,360.05 L611.70,362.07 L610.94,364.11 L610.24,366.16 L609.59,368.24 L609.01,370.34 L608.48,372.45 L608.02,374.57 L607.62,376.71 L607.28,378.86 L607.00,381.02 L606.78,383.18 L606.62,385.35 L606.53,387.52 L606.50,389.70 L606.5,425" stroke="#111" stroke-width="1.12" fill="none"/><path d="M672.23,316.62 L670.14,316.94 L668.06,317.33 L666.00,317.77 L663.95,318.27 L661.91,318.83 L659.89,319.45 L657.89,320.12 L655.91,320.86 L653.95,321.65 L652.01,322.49 L650.10,323.39 L648.22,324.35 L646.36,325.35 L644.53,326.41 L642.74,327.53 L640.98,328.69 L639.25,329.90 L637.55,331.17 L635.90,332.48 L634.28,333.83 L632.70,335.24 L631.16,336.68 L629.66,338.18 L628.21,339.71 L626.80,341.28 L625.44,342.90 L624.12,344.55 L622.86,346.24 L621.64,347.96 L620.47,349.72 L619.35,351.51 L618.28,353.34 L617.27,355.19 L616.31,357.07 L615.40,358.98 L614.55,360.91 L613.75,362.87 L613.01,364.85 L612.33,366.85 L611.70,368.86 L611.14,370.90 L610.63,372.95 L610.18,375.01 L609.79,377.09 L609.45,379.17 L609.18,381.27 L608.97,383.37 L608.82,385.48 L608.73,387.59 L608.70,389.70 L608.7,425" stroke="#111" stroke-width="1.46" fill="none"/><path d="M672.55,318.90 L670.53,319.21 L668.51,319.58 L666.51,320.01 L664.53,320.50 L662.55,321.04 L660.60,321.64 L658.66,322.29 L656.74,323.00 L654.84,323.77 L652.96,324.59 L651.11,325.46 L649.29,326.38 L647.49,327.36 L645.72,328.39 L643.98,329.46 L642.27,330.59 L640.59,331.77 L638.95,332.99 L637.35,334.26 L635.78,335.57 L634.25,336.93 L632.76,338.34 L631.31,339.78 L629.90,341.27 L628.54,342.79 L627.22,344.36 L625.94,345.96 L624.71,347.59 L623.53,349.26 L622.40,350.97 L621.32,352.70 L620.28,354.47 L619.30,356.27 L618.37,358.09 L617.49,359.94 L616.66,361.81 L615.89,363.70 L615.18,365.62 L614.51,367.56 L613.91,369.51 L613.36,371.48 L612.87,373.47 L612.43,375.47 L612.05,377.48 L611.73,379.50 L611.47,381.53 L611.26,383.57 L611.12,385.61 L611.03,387.65 L611.00,389.70 L611,386" stroke="#111" stroke-width="1.01" fill="none"/><path d="M667.2,295 L667.2,307" stroke="#111" stroke-width="1.01" fill="none"/><path d="M670,308.6 L670,343.8" stroke="#111" stroke-width="1.12" fill="none"/><path d="M662.8,319 L662.8,343.5" stroke="#111" stroke-width="0.90" fill="none"/><path d="M676,318 L676,343.5" stroke="#111" stroke-width="0.67" fill="none"/><path d="M572.8,361.3 L604.5,361.3" stroke="#111" stroke-width="0.90" fill="none"/><path d="M592.1,322.8 L608.8,332.7 L608.8,348.8 L592.1,358.7 L576.1,348.8 L576.1,332.7 Z" stroke="#111" stroke-width="1.23" fill="none"/><path d="M568.7,401 L568.7,371.5 Q568.7,368.7 571.5,368.7 L603,368.7 Q606,368.7 606,371.5 L606,400 Q606,403 603,403 L571.5,403 Q568.7,403 568.7,401 Z" stroke="#111" stroke-width="1.46" fill="none"/><path d="M571.5,372 L571.5,399 L603,399" stroke="#111" stroke-width="0.78" fill="none"/><path d="M571,371 L603.5,371" stroke="#111" stroke-width="1.12" fill="none"/><path d="M603.3,372 L603.3,399" stroke="#111" stroke-width="0.90" fill="none"/><path d="M610.5,406.7 L569.6,408.6 L569.6,420.3 L610.5,419.6" stroke="#111" stroke-width="1.46" fill="none"/><path d="M572,409.20000000000005 L572,419.7" stroke="#111" stroke-width="1.23" fill="none"/><path d="M610.5,423.2 L569.6,425 L569.6,434.6 L610.5,432.8" stroke="#111" stroke-width="1.46" fill="none"/><path d="M572,425.6 L572,434.0" stroke="#111" stroke-width="1.23" fill="none"/><path d="M610.5,436.8 L569.6,438.3 L569.6,443.4 L610.5,441.9" stroke="#111" stroke-width="1.46" fill="none"/><path d="M572,438.90000000000003 L572,442.79999999999995" stroke="#111" stroke-width="1.23" fill="none"/></g>
<g transform="translate(0,0)"><path d="M603.3,336.8 L603.3,334.5 L592.1,328.2 L580.5,335 L580.5,338.8 L592.1,345.3 M591.2,336.5 L603.3,343.2 L603.3,347 L592.1,353.8 L580.5,347 L580.5,344.8" stroke="#111" stroke-width="3.0" fill="none"/><path d="M603.3,336.8 L603.3,334.5 L592.1,328.2 L580.5,335 L580.5,338.8 L592.1,345.3 M591.2,336.5 L603.3,343.2 L603.3,347 L592.1,353.8 L580.5,347 L580.5,344.8" stroke="#fff" stroke-width="1.1" fill="none"/></g>
<g transform="" opacity="1.0"><path d="M611.5,386 C613,368 624,352 638.7,346 L676,346 C686,346 692,352 692.5,362 L692.5,429.6 L683.5,466 Q682.7,468.3 680,468.3 L624,468.3 Q620.5,468.3 619.5,465 L611.5,428 Z" stroke="#111" stroke-width="1.68" fill="#fff"/><path d="M612.5,388 C616,369 626,354 640,349 L676,349" stroke="#111" stroke-width="0.78" fill="none"/><path d="M633.3,402.4 L692.5,402.4" stroke="#111" stroke-width="1.23" fill="none"/><path d="M633.3,394 L633.3,402.4" stroke="#111" stroke-width="0.90" fill="none"/><path d="M611.5,429.6 L692.5,429.6" stroke="#111" stroke-width="1.23" fill="none"/><path d="M617,454.4 L687,454.4" stroke="#111" stroke-width="1.23" fill="none"/><path d="M619,460 L685,460" stroke="#111" stroke-width="0.90" fill="none"/><path d="M612.5,387.3 L636,406.5 Q640,410.5 636,414 L612.5,424.7" stroke="#111" stroke-width="1.23" fill="none"/><path d="M614,390.5 L633,406.5 Q636,410.5 633,413.5 L614,421.5" stroke="#111" stroke-width="0.78" fill="none"/><path d="M619.5,460 L624,468" stroke="#111" stroke-width="1.01" fill="none"/><circle cx="652.7" cy="384.7" r="10.4" stroke="#111" stroke-width="2.02" fill="none"/><circle cx="652.7" cy="384.7" r="4.7" stroke="#111" stroke-width="1.79" fill="none"/><path d="M654.4,468.3 L654.4,523 Q654.4,524.8 656.4,524.8 L666.7,524.8 Q668.7,524.8 668.7,523 L668.7,468.3" stroke="#111" stroke-width="1.46" fill="none"/><path d="M648,490.5 L648,487.5 L675.3,487.5 L675.3,490.5 Z" stroke="#111" stroke-width="1.46" fill="none"/><path d="M649.5,490.5 L649.5,493 L674,493 L674,490.5" stroke="#111" stroke-width="0.90" fill="none"/><path d="M650,493 L650,503.5 Q650,504.7 651.5,504.7 L672,504.7 Q673.3,504.7 673.3,503.5 L673.3,493" stroke="#111" stroke-width="1.57" fill="none"/><path d="M661.6,493 L661.6,504.7" stroke="#111" stroke-width="1.23" fill="none"/></g>
<g transform="" opacity="1.0"><circle cx="677.1" cy="360.4" r="10" stroke="#111" stroke-width="1.98" fill="none"/><circle cx="677.1" cy="360.4" r="4.7" stroke="#111" stroke-width="1.76" fill="none"/></g>
<g transform="translate(879.7,388.0) rotate(-6.8) scale(0.984) translate(-652.7,-384.7)" opacity="1.0"><path d="M553.6,441.5 L553.6,163.5 Q553.6,160 557.5,160 L639.8,162.6 C645,164 650,168 658,174.5 C663,178 667,180 672,181.5 C678,183.5 683,185 687,188 C690,191 691.3,194 691.3,198 L691.3,280 L690.8,282 L690.8,305 L692,307 L692,430" stroke="#a0a0a0" stroke-width="0.91" fill="none"/><path d="M640,164.2 C644,165.5 649,169.5 656.5,175.5 C661.5,179 666,181.5 671,183 C677,185 682,186.5 685.5,189.5 C688.5,192.5 689.8,195 689.8,199" stroke="#a0a0a0" stroke-width="0.56" fill="none"/><path d="M566.4,160.5 L566.4,444.5" stroke="#a0a0a0" stroke-width="0.70" fill="none"/><path d="M564.5,195 L564.5,419" stroke="#a0a0a0" stroke-width="0.56" fill="none"/><path d="M554,194.7 L581.5,194.7" stroke="#a0a0a0" stroke-width="0.63" fill="none"/><path d="M554,418.8 L566.4,418.8" stroke="#a0a0a0" stroke-width="0.63" fill="none"/><path d="M553.6,441.5 Q553.6,444.9 557.5,444.9 L611,444.9" stroke="#a0a0a0" stroke-width="0.91" fill="none"/><path d="M650,168.6 L581.7,167.5 L581.7,160.5" stroke="#a0a0a0" stroke-width="1.05" fill="none"/><path d="M655,172.2 L590.1,170.3 L590.1,180.8 L666.4,184.3 C676,186 683,190 686.5,196 C689,201 690,207 690,215 L690,280" stroke="#a0a0a0" stroke-width="1.05" fill="none"/><path d="M581.7,184.3 L666.4,184.3" stroke="#a0a0a0" stroke-width="0.91" fill="none"/><path d="M581.7,184.3 L581.7,198.3 L668,204 C675,205.5 679,208 681,210.5 C685,216 687.6,223.6 689.5,238.5 C690,248 690,255 690,264.7 L690,305.7 C690,309 689,311.5 687.6,313.2 C684,316 680,317 675.5,317" stroke="#a0a0a0" stroke-width="1.05" fill="none"/><path d="M575.4,203.9 L668,204" stroke="#a0a0a0" stroke-width="0.98" fill="none"/><path d="M575.4,203.9 L575.4,224.9 L668,225.5 C670.5,226.5 672,228 672.7,229.2 C673.6,231 674.2,233 674.5,234.8" stroke="#a0a0a0" stroke-width="0.98" fill="none"/><path d="M667.5,225.2 L667.5,237" stroke="#a0a0a0" stroke-width="0.49" fill="none"/><path d="M645,162.4 L584.3000000000001,162.2 L584.3000000000001,165.9 L645,166.3" stroke="#a0a0a0" stroke-width="0.52" fill="none"/><path d="M655,172.20000000000002 L592.7,172.0 L592.7,179.20000000000002 L655,179.60000000000002" stroke="#a0a0a0" stroke-width="0.52" fill="none"/><path d="M662,186.20000000000002 L584.3000000000001,186.0 L584.3000000000001,196.70000000000002 L662,197.10000000000002" stroke="#a0a0a0" stroke-width="0.52" fill="none"/><path d="M664,205.8 L578.0,205.6 L578.0,223.3 L664,223.70000000000002" stroke="#a0a0a0" stroke-width="0.52" fill="none"/><path d="M575.4,225.5 L667.5,233.5 C673,234.5 677,237.5 680,241.5 C683,246 685.5,252 687,260 C688.5,268 688.9,276 688.9,283.3 L689.5,309.5" stroke="#a0a0a0" stroke-width="0.91" fill="none"/><path d="M570.3,312.5 L570.3,239 Q570.3,235.6 574,235.6 L667.5,237 C672,238 676,241 679,245.5 C682,250.5 684.5,257 685.8,265" stroke="#a0a0a0" stroke-width="0.98" fill="none"/><path d="M572.3,240 L572.3,310" stroke="#a0a0a0" stroke-width="0.49" fill="none"/><path d="M570.3,268.7 L640,271.2 L668,272.1 Q671.7,274 672.7,283.3 L672.7,320" stroke="#a0a0a0" stroke-width="0.84" fill="none"/><path d="M667.3,272.4 L667.3,312" stroke="#a0a0a0" stroke-width="0.49" fill="none"/><path d="M572,306 L667,307.5" stroke="#a0a0a0" stroke-width="0.63" fill="none"/><path d="M570.3,312.5 L673,313.5" stroke="#a0a0a0" stroke-width="0.77" fill="none"/><path d="M625,313 L625,320" stroke="#a0a0a0" stroke-width="0.49" fill="none"/><path d="M673.2,279.2 L684.8,279.2 L684.8,308.5 L673.2,308.5 Z" stroke="#a0a0a0" stroke-width="1.40" fill="none"/><path d="M676.5,282 L676.5,305.5" stroke="#a0a0a0" stroke-width="0.49" fill="none"/><path d="M606,364 L573,364 Q570,364 570,361 L570,322 Q570,319.5 573,319.5 L637,320 Q641,320.5 639.5,323.5 L639.84,321.43 L637.43,323.00 L635.07,324.66 L632.77,326.40 L630.54,328.21 L628.37,330.11 L626.28,332.09 L624.25,334.13 L622.30,336.25 L620.43,338.44 L618.64,340.69 L616.92,343.01 L615.29,345.39 L613.75,347.82 L612.30,350.30 L610.93,352.84 L609.66,355.42 L608.48,358.05 L607.40,360.72 L606.41,363.43 L605.52,366.16 Q606.5,363.5 604,364" stroke="#a0a0a0" stroke-width="0.98" fill="none"/><path d="M572.8,361.3 L572.8,322.5 L634,322.8 L638.72,324.79 L636.70,326.19 L634.73,327.66 L632.80,329.19 L630.92,330.79 L629.10,332.44 L627.33,334.14 L625.61,335.90 L623.95,337.71 L622.34,339.58 L620.80,341.49 L619.32,343.46 L617.89,345.46 L616.54,347.51 L615.24,349.61 L614.02,351.74 L612.86,353.91 L611.77,356.11 L610.75,358.35 L609.80,360.62 L608.92,362.92" stroke="#a0a0a0" stroke-width="0.49" fill="none"/><path d="M671.92,314.44 L669.77,314.77 L667.63,315.17 L665.51,315.62 L663.39,316.14 L661.30,316.72 L659.22,317.35 L657.16,318.05 L655.12,318.81 L653.10,319.62 L651.10,320.49 L649.14,321.41 L647.20,322.40 L645.28,323.44 L643.40,324.53 L641.55,325.67 L639.74,326.87 L637.96,328.12 L636.21,329.42 L634.51,330.77 L632.84,332.17 L631.21,333.61 L629.63,335.10 L628.09,336.64 L626.59,338.22 L625.14,339.84 L623.74,341.50 L622.38,343.20 L621.08,344.94 L619.82,346.72 L618.62,348.53 L617.46,350.38 L616.37,352.25 L615.32,354.16 L614.33,356.10 L613.40,358.06 L612.52,360.05 L611.70,362.07 L610.94,364.11 L610.24,366.16 L609.59,368.24 L609.01,370.34 L608.48,372.45 L608.02,374.57 L607.62,376.71 L607.28,378.86 L607.00,381.02 L606.78,383.18 L606.62,385.35 L606.53,387.52 L606.50,389.70 L606.5,425" stroke="#a0a0a0" stroke-width="0.70" fill="none"/><path d="M672.23,316.62 L670.14,316.94 L668.06,317.33 L666.00,317.77 L663.95,318.27 L661.91,318.83 L659.89,319.45 L657.89,320.12 L655.91,320.86 L653.95,321.65 L652.01,322.49 L650.10,323.39 L648.22,324.35 L646.36,325.35 L644.53,326.41 L642.74,327.53 L640.98,328.69 L639.25,329.90 L637.55,331.17 L635.90,332.48 L634.28,333.83 L632.70,335.24 L631.16,336.68 L629.66,338.18 L628.21,339.71 L626.80,341.28 L625.44,342.90 L624.12,344.55 L622.86,346.24 L621.64,347.96 L620.47,349.72 L619.35,351.51 L618.28,353.34 L617.27,355.19 L616.31,357.07 L615.40,358.98 L614.55,360.91 L613.75,362.87 L613.01,364.85 L612.33,366.85 L611.70,368.86 L611.14,370.90 L610.63,372.95 L610.18,375.01 L609.79,377.09 L609.45,379.17 L609.18,381.27 L608.97,383.37 L608.82,385.48 L608.73,387.59 L608.70,389.70 L608.7,425" stroke="#a0a0a0" stroke-width="0.91" fill="none"/><path d="M672.55,318.90 L670.53,319.21 L668.51,319.58 L666.51,320.01 L664.53,320.50 L662.55,321.04 L660.60,321.64 L658.66,322.29 L656.74,323.00 L654.84,323.77 L652.96,324.59 L651.11,325.46 L649.29,326.38 L647.49,327.36 L645.72,328.39 L643.98,329.46 L642.27,330.59 L640.59,331.77 L638.95,332.99 L637.35,334.26 L635.78,335.57 L634.25,336.93 L632.76,338.34 L631.31,339.78 L629.90,341.27 L628.54,342.79 L627.22,344.36 L625.94,345.96 L624.71,347.59 L623.53,349.26 L622.40,350.97 L621.32,352.70 L620.28,354.47 L619.30,356.27 L618.37,358.09 L617.49,359.94 L616.66,361.81 L615.89,363.70 L615.18,365.62 L614.51,367.56 L613.91,369.51 L613.36,371.48 L612.87,373.47 L612.43,375.47 L612.05,377.48 L611.73,379.50 L611.47,381.53 L611.26,383.57 L611.12,385.61 L611.03,387.65 L611.00,389.70 L611,386" stroke="#a0a0a0" stroke-width="0.63" fill="none"/><path d="M667.2,295 L667.2,307" stroke="#a0a0a0" stroke-width="0.63" fill="none"/><path d="M670,308.6 L670,343.8" stroke="#a0a0a0" stroke-width="0.70" fill="none"/><path d="M662.8,319 L662.8,343.5" stroke="#a0a0a0" stroke-width="0.56" fill="none"/><path d="M676,318 L676,343.5" stroke="#a0a0a0" stroke-width="0.42" fill="none"/><path d="M572.8,361.3 L604.5,361.3" stroke="#a0a0a0" stroke-width="0.56" fill="none"/><path d="M592.1,322.8 L608.8,332.7 L608.8,348.8 L592.1,358.7 L576.1,348.8 L576.1,332.7 Z" stroke="#a0a0a0" stroke-width="0.77" fill="none"/><path d="M568.7,401 L568.7,371.5 Q568.7,368.7 571.5,368.7 L603,368.7 Q606,368.7 606,371.5 L606,400 Q606,403 603,403 L571.5,403 Q568.7,403 568.7,401 Z" stroke="#a0a0a0" stroke-width="0.91" fill="none"/><path d="M571.5,372 L571.5,399 L603,399" stroke="#a0a0a0" stroke-width="0.49" fill="none"/><path d="M571,371 L603.5,371" stroke="#a0a0a0" stroke-width="0.70" fill="none"/><path d="M603.3,372 L603.3,399" stroke="#a0a0a0" stroke-width="0.56" fill="none"/><path d="M610.5,406.7 L569.6,408.6 L569.6,420.3 L610.5,419.6" stroke="#a0a0a0" stroke-width="0.91" fill="none"/><path d="M572,409.20000000000005 L572,419.7" stroke="#a0a0a0" stroke-width="0.77" fill="none"/><path d="M610.5,423.2 L569.6,425 L569.6,434.6 L610.5,432.8" stroke="#a0a0a0" stroke-width="0.91" fill="none"/><path d="M572,425.6 L572,434.0" stroke="#a0a0a0" stroke-width="0.77" fill="none"/><path d="M610.5,436.8 L569.6,438.3 L569.6,443.4 L610.5,441.9" stroke="#a0a0a0" stroke-width="0.91" fill="none"/><path d="M572,438.90000000000003 L572,442.79999999999995" stroke="#a0a0a0" stroke-width="0.77" fill="none"/></g>
<g transform="translate(879.7,388.0) rotate(-6.8) scale(0.984) translate(-652.7,-384.7)"><g transform="translate(0,0)"><path d="M603.3,336.8 L603.3,334.5 L592.1,328.2 L580.5,335 L580.5,338.8 L592.1,345.3 M591.2,336.5 L603.3,343.2 L603.3,347 L592.1,353.8 L580.5,347 L580.5,344.8" stroke="#a0a0a0" stroke-width="3.0" fill="none"/><path d="M603.3,336.8 L603.3,334.5 L592.1,328.2 L580.5,335 L580.5,338.8 L592.1,345.3 M591.2,336.5 L603.3,343.2 L603.3,347 L592.1,353.8 L580.5,347 L580.5,344.8" stroke="#fff" stroke-width="1.1" fill="none"/></g></g>
<g transform="translate(879.7,388.0) rotate(6.8) scale(0.984) translate(-652.7,-384.7)" opacity="1.0"><path d="M553.6,441.5 L553.6,163.5 Q553.6,160 557.5,160 L639.8,162.6 C645,164 650,168 658,174.5 C663,178 667,180 672,181.5 C678,183.5 683,185 687,188 C690,191 691.3,194 691.3,198 L691.3,280 L690.8,282 L690.8,305 L692,307 L692,430" stroke="#a0a0a0" stroke-width="0.91" fill="none"/><path d="M640,164.2 C644,165.5 649,169.5 656.5,175.5 C661.5,179 666,181.5 671,183 C677,185 682,186.5 685.5,189.5 C688.5,192.5 689.8,195 689.8,199" stroke="#a0a0a0" stroke-width="0.56" fill="none"/><path d="M566.4,160.5 L566.4,444.5" stroke="#a0a0a0" stroke-width="0.70" fill="none"/><path d="M564.5,195 L564.5,419" stroke="#a0a0a0" stroke-width="0.56" fill="none"/><path d="M554,194.7 L581.5,194.7" stroke="#a0a0a0" stroke-width="0.63" fill="none"/><path d="M554,418.8 L566.4,418.8" stroke="#a0a0a0" stroke-width="0.63" fill="none"/><path d="M553.6,441.5 Q553.6,444.9 557.5,444.9 L611,444.9" stroke="#a0a0a0" stroke-width="0.91" fill="none"/><path d="M650,168.6 L581.7,167.5 L581.7,160.5" stroke="#a0a0a0" stroke-width="1.05" fill="none"/><path d="M655,172.2 L590.1,170.3 L590.1,180.8 L666.4,184.3 C676,186 683,190 686.5,196 C689,201 690,207 690,215 L690,280" stroke="#a0a0a0" stroke-width="1.05" fill="none"/><path d="M581.7,184.3 L666.4,184.3" stroke="#a0a0a0" stroke-width="0.91" fill="none"/><path d="M581.7,184.3 L581.7,198.3 L668,204 C675,205.5 679,208 681,210.5 C685,216 687.6,223.6 689.5,238.5 C690,248 690,255 690,264.7 L690,305.7 C690,309 689,311.5 687.6,313.2 C684,316 680,317 675.5,317" stroke="#a0a0a0" stroke-width="1.05" fill="none"/><path d="M575.4,203.9 L668,204" stroke="#a0a0a0" stroke-width="0.98" fill="none"/><path d="M575.4,203.9 L575.4,224.9 L668,225.5 C670.5,226.5 672,228 672.7,229.2 C673.6,231 674.2,233 674.5,234.8" stroke="#a0a0a0" stroke-width="0.98" fill="none"/><path d="M667.5,225.2 L667.5,237" stroke="#a0a0a0" stroke-width="0.49" fill="none"/><path d="M645,162.4 L584.3000000000001,162.2 L584.3000000000001,165.9 L645,166.3" stroke="#a0a0a0" stroke-width="0.52" fill="none"/><path d="M655,172.20000000000002 L592.7,172.0 L592.7,179.20000000000002 L655,179.60000000000002" stroke="#a0a0a0" stroke-width="0.52" fill="none"/><path d="M662,186.20000000000002 L584.3000000000001,186.0 L584.3000000000001,196.70000000000002 L662,197.10000000000002" stroke="#a0a0a0" stroke-width="0.52" fill="none"/><path d="M664,205.8 L578.0,205.6 L578.0,223.3 L664,223.70000000000002" stroke="#a0a0a0" stroke-width="0.52" fill="none"/><path d="M575.4,225.5 L667.5,233.5 C673,234.5 677,237.5 680,241.5 C683,246 685.5,252 687,260 C688.5,268 688.9,276 688.9,283.3 L689.5,309.5" stroke="#a0a0a0" stroke-width="0.91" fill="none"/><path d="M570.3,312.5 L570.3,239 Q570.3,235.6 574,235.6 L667.5,237 C672,238 676,241 679,245.5 C682,250.5 684.5,257 685.8,265" stroke="#a0a0a0" stroke-width="0.98" fill="none"/><path d="M572.3,240 L572.3,310" stroke="#a0a0a0" stroke-width="0.49" fill="none"/><path d="M570.3,268.7 L640,271.2 L668,272.1 Q671.7,274 672.7,283.3 L672.7,320" stroke="#a0a0a0" stroke-width="0.84" fill="none"/><path d="M667.3,272.4 L667.3,312" stroke="#a0a0a0" stroke-width="0.49" fill="none"/><path d="M572,306 L667,307.5" stroke="#a0a0a0" stroke-width="0.63" fill="none"/><path d="M570.3,312.5 L673,313.5" stroke="#a0a0a0" stroke-width="0.77" fill="none"/><path d="M625,313 L625,320" stroke="#a0a0a0" stroke-width="0.49" fill="none"/><path d="M673.2,279.2 L684.8,279.2 L684.8,308.5 L673.2,308.5 Z" stroke="#a0a0a0" stroke-width="1.40" fill="none"/><path d="M676.5,282 L676.5,305.5" stroke="#a0a0a0" stroke-width="0.49" fill="none"/><path d="M606,364 L573,364 Q570,364 570,361 L570,322 Q570,319.5 573,319.5 L637,320 Q641,320.5 639.5,323.5 L639.84,321.43 L637.43,323.00 L635.07,324.66 L632.77,326.40 L630.54,328.21 L628.37,330.11 L626.28,332.09 L624.25,334.13 L622.30,336.25 L620.43,338.44 L618.64,340.69 L616.92,343.01 L615.29,345.39 L613.75,347.82 L612.30,350.30 L610.93,352.84 L609.66,355.42 L608.48,358.05 L607.40,360.72 L606.41,363.43 L605.52,366.16 Q606.5,363.5 604,364" stroke="#a0a0a0" stroke-width="0.98" fill="none"/><path d="M572.8,361.3 L572.8,322.5 L634,322.8 L638.72,324.79 L636.70,326.19 L634.73,327.66 L632.80,329.19 L630.92,330.79 L629.10,332.44 L627.33,334.14 L625.61,335.90 L623.95,337.71 L622.34,339.58 L620.80,341.49 L619.32,343.46 L617.89,345.46 L616.54,347.51 L615.24,349.61 L614.02,351.74 L612.86,353.91 L611.77,356.11 L610.75,358.35 L609.80,360.62 L608.92,362.92" stroke="#a0a0a0" stroke-width="0.49" fill="none"/><path d="M671.92,314.44 L669.77,314.77 L667.63,315.17 L665.51,315.62 L663.39,316.14 L661.30,316.72 L659.22,317.35 L657.16,318.05 L655.12,318.81 L653.10,319.62 L651.10,320.49 L649.14,321.41 L647.20,322.40 L645.28,323.44 L643.40,324.53 L641.55,325.67 L639.74,326.87 L637.96,328.12 L636.21,329.42 L634.51,330.77 L632.84,332.17 L631.21,333.61 L629.63,335.10 L628.09,336.64 L626.59,338.22 L625.14,339.84 L623.74,341.50 L622.38,343.20 L621.08,344.94 L619.82,346.72 L618.62,348.53 L617.46,350.38 L616.37,352.25 L615.32,354.16 L614.33,356.10 L613.40,358.06 L612.52,360.05 L611.70,362.07 L610.94,364.11 L610.24,366.16 L609.59,368.24 L609.01,370.34 L608.48,372.45 L608.02,374.57 L607.62,376.71 L607.28,378.86 L607.00,381.02 L606.78,383.18 L606.62,385.35 L606.53,387.52 L606.50,389.70 L606.5,425" stroke="#a0a0a0" stroke-width="0.70" fill="none"/><path d="M672.23,316.62 L670.14,316.94 L668.06,317.33 L666.00,317.77 L663.95,318.27 L661.91,318.83 L659.89,319.45 L657.89,320.12 L655.91,320.86 L653.95,321.65 L652.01,322.49 L650.10,323.39 L648.22,324.35 L646.36,325.35 L644.53,326.41 L642.74,327.53 L640.98,328.69 L639.25,329.90 L637.55,331.17 L635.90,332.48 L634.28,333.83 L632.70,335.24 L631.16,336.68 L629.66,338.18 L628.21,339.71 L626.80,341.28 L625.44,342.90 L624.12,344.55 L622.86,346.24 L621.64,347.96 L620.47,349.72 L619.35,351.51 L618.28,353.34 L617.27,355.19 L616.31,357.07 L615.40,358.98 L614.55,360.91 L613.75,362.87 L613.01,364.85 L612.33,366.85 L611.70,368.86 L611.14,370.90 L610.63,372.95 L610.18,375.01 L609.79,377.09 L609.45,379.17 L609.18,381.27 L608.97,383.37 L608.82,385.48 L608.73,387.59 L608.70,389.70 L608.7,425" stroke="#a0a0a0" stroke-width="0.91" fill="none"/><path d="M672.55,318.90 L670.53,319.21 L668.51,319.58 L666.51,320.01 L664.53,320.50 L662.55,321.04 L660.60,321.64 L658.66,322.29 L656.74,323.00 L654.84,323.77 L652.96,324.59 L651.11,325.46 L649.29,326.38 L647.49,327.36 L645.72,328.39 L643.98,329.46 L642.27,330.59 L640.59,331.77 L638.95,332.99 L637.35,334.26 L635.78,335.57 L634.25,336.93 L632.76,338.34 L631.31,339.78 L629.90,341.27 L628.54,342.79 L627.22,344.36 L625.94,345.96 L624.71,347.59 L623.53,349.26 L622.40,350.97 L621.32,352.70 L620.28,354.47 L619.30,356.27 L618.37,358.09 L617.49,359.94 L616.66,361.81 L615.89,363.70 L615.18,365.62 L614.51,367.56 L613.91,369.51 L613.36,371.48 L612.87,373.47 L612.43,375.47 L612.05,377.48 L611.73,379.50 L611.47,381.53 L611.26,383.57 L611.12,385.61 L611.03,387.65 L611.00,389.70 L611,386" stroke="#a0a0a0" stroke-width="0.63" fill="none"/><path d="M667.2,295 L667.2,307" stroke="#a0a0a0" stroke-width="0.63" fill="none"/><path d="M670,308.6 L670,343.8" stroke="#a0a0a0" stroke-width="0.70" fill="none"/><path d="M662.8,319 L662.8,343.5" stroke="#a0a0a0" stroke-width="0.56" fill="none"/><path d="M676,318 L676,343.5" stroke="#a0a0a0" stroke-width="0.42" fill="none"/><path d="M572.8,361.3 L604.5,361.3" stroke="#a0a0a0" stroke-width="0.56" fill="none"/><path d="M592.1,322.8 L608.8,332.7 L608.8,348.8 L592.1,358.7 L576.1,348.8 L576.1,332.7 Z" stroke="#a0a0a0" stroke-width="0.77" fill="none"/><path d="M568.7,401 L568.7,371.5 Q568.7,368.7 571.5,368.7 L603,368.7 Q606,368.7 606,371.5 L606,400 Q606,403 603,403 L571.5,403 Q568.7,403 568.7,401 Z" stroke="#a0a0a0" stroke-width="0.91" fill="none"/><path d="M571.5,372 L571.5,399 L603,399" stroke="#a0a0a0" stroke-width="0.49" fill="none"/><path d="M571,371 L603.5,371" stroke="#a0a0a0" stroke-width="0.70" fill="none"/><path d="M603.3,372 L603.3,399" stroke="#a0a0a0" stroke-width="0.56" fill="none"/><path d="M610.5,406.7 L569.6,408.6 L569.6,420.3 L610.5,419.6" stroke="#a0a0a0" stroke-width="0.91" fill="none"/><path d="M572,409.20000000000005 L572,419.7" stroke="#a0a0a0" stroke-width="0.77" fill="none"/><path d="M610.5,423.2 L569.6,425 L569.6,434.6 L610.5,432.8" stroke="#a0a0a0" stroke-width="0.91" fill="none"/><path d="M572,425.6 L572,434.0" stroke="#a0a0a0" stroke-width="0.77" fill="none"/><path d="M610.5,436.8 L569.6,438.3 L569.6,443.4 L610.5,441.9" stroke="#a0a0a0" stroke-width="0.91" fill="none"/><path d="M572,438.90000000000003 L572,442.79999999999995" stroke="#a0a0a0" stroke-width="0.77" fill="none"/></g>
<g transform="translate(879.7,388.0) rotate(6.8) scale(0.984) translate(-652.7,-384.7)"><g transform="translate(0,0)"><path d="M603.3,336.8 L603.3,334.5 L592.1,328.2 L580.5,335 L580.5,338.8 L592.1,345.3 M591.2,336.5 L603.3,343.2 L603.3,347 L592.1,353.8 L580.5,347 L580.5,344.8" stroke="#a0a0a0" stroke-width="3.0" fill="none"/><path d="M603.3,336.8 L603.3,334.5 L592.1,328.2 L580.5,335 L580.5,338.8 L592.1,345.3 M591.2,336.5 L603.3,343.2 L603.3,347 L592.1,353.8 L580.5,347 L580.5,344.8" stroke="#fff" stroke-width="1.1" fill="none"/></g></g>
<g transform="translate(879.7,388.0) scale(0.984) translate(-652.7,-384.7)" opacity="1.0"><path d="M553.6,441.5 L553.6,163.5 Q553.6,160 557.5,160 L639.8,162.6 C645,164 650,168 658,174.5 C663,178 667,180 672,181.5 C678,183.5 683,185 687,188 C690,191 691.3,194 691.3,198 L691.3,280 L690.8,282 L690.8,305 L692,307 L692,430" stroke="#333" stroke-width="1.04" fill="none"/><path d="M640,164.2 C644,165.5 649,169.5 656.5,175.5 C661.5,179 666,181.5 671,183 C677,185 682,186.5 685.5,189.5 C688.5,192.5 689.8,195 689.8,199" stroke="#333" stroke-width="0.64" fill="none"/><path d="M566.4,160.5 L566.4,444.5" stroke="#333" stroke-width="0.80" fill="none"/><path d="M564.5,195 L564.5,419" stroke="#333" stroke-width="0.64" fill="none"/><path d="M554,194.7 L581.5,194.7" stroke="#333" stroke-width="0.72" fill="none"/><path d="M554,418.8 L566.4,418.8" stroke="#333" stroke-width="0.72" fill="none"/><path d="M553.6,441.5 Q553.6,444.9 557.5,444.9 L611,444.9" stroke="#333" stroke-width="1.04" fill="none"/><path d="M650,168.6 L581.7,167.5 L581.7,160.5" stroke="#333" stroke-width="1.20" fill="none"/><path d="M655,172.2 L590.1,170.3 L590.1,180.8 L666.4,184.3 C676,186 683,190 686.5,196 C689,201 690,207 690,215 L690,280" stroke="#333" stroke-width="1.20" fill="none"/><path d="M581.7,184.3 L666.4,184.3" stroke="#333" stroke-width="1.04" fill="none"/><path d="M581.7,184.3 L581.7,198.3 L668,204 C675,205.5 679,208 681,210.5 C685,216 687.6,223.6 689.5,238.5 C690,248 690,255 690,264.7 L690,305.7 C690,309 689,311.5 687.6,313.2 C684,316 680,317 675.5,317" stroke="#333" stroke-width="1.20" fill="none"/><path d="M575.4,203.9 L668,204" stroke="#333" stroke-width="1.12" fill="none"/><path d="M575.4,203.9 L575.4,224.9 L668,225.5 C670.5,226.5 672,228 672.7,229.2 C673.6,231 674.2,233 674.5,234.8" stroke="#333" stroke-width="1.12" fill="none"/><path d="M667.5,225.2 L667.5,237" stroke="#333" stroke-width="0.56" fill="none"/><path d="M645,162.4 L584.3000000000001,162.2 L584.3000000000001,165.9 L645,166.3" stroke="#333" stroke-width="0.60" fill="none"/><path d="M655,172.20000000000002 L592.7,172.0 L592.7,179.20000000000002 L655,179.60000000000002" stroke="#333" stroke-width="0.60" fill="none"/><path d="M662,186.20000000000002 L584.3000000000001,186.0 L584.3000000000001,196.70000000000002 L662,197.10000000000002" stroke="#333" stroke-width="0.60" fill="none"/><path d="M664,205.8 L578.0,205.6 L578.0,223.3 L664,223.70000000000002" stroke="#333" stroke-width="0.60" fill="none"/><path d="M575.4,225.5 L667.5,233.5 C673,234.5 677,237.5 680,241.5 C683,246 685.5,252 687,260 C688.5,268 688.9,276 688.9,283.3 L689.5,309.5" stroke="#333" stroke-width="1.04" fill="none"/><path d="M570.3,312.5 L570.3,239 Q570.3,235.6 574,235.6 L667.5,237 C672,238 676,241 679,245.5 C682,250.5 684.5,257 685.8,265" stroke="#333" stroke-width="1.12" fill="none"/><path d="M572.3,240 L572.3,310" stroke="#333" stroke-width="0.56" fill="none"/><path d="M570.3,268.7 L640,271.2 L668,272.1 Q671.7,274 672.7,283.3 L672.7,320" stroke="#333" stroke-width="0.96" fill="none"/><path d="M667.3,272.4 L667.3,312" stroke="#333" stroke-width="0.56" fill="none"/><path d="M572,306 L667,307.5" stroke="#333" stroke-width="0.72" fill="none"/><path d="M570.3,312.5 L673,313.5" stroke="#333" stroke-width="0.88" fill="none"/><path d="M625,313 L625,320" stroke="#333" stroke-width="0.56" fill="none"/><path d="M673.2,279.2 L684.8,279.2 L684.8,308.5 L673.2,308.5 Z" stroke="#333" stroke-width="1.60" fill="none"/><path d="M676.5,282 L676.5,305.5" stroke="#333" stroke-width="0.56" fill="none"/><path d="M606,364 L573,364 Q570,364 570,361 L570,322 Q570,319.5 573,319.5 L637,320 Q641,320.5 639.5,323.5 L639.84,321.43 L637.43,323.00 L635.07,324.66 L632.77,326.40 L630.54,328.21 L628.37,330.11 L626.28,332.09 L624.25,334.13 L622.30,336.25 L620.43,338.44 L618.64,340.69 L616.92,343.01 L615.29,345.39 L613.75,347.82 L612.30,350.30 L610.93,352.84 L609.66,355.42 L608.48,358.05 L607.40,360.72 L606.41,363.43 L605.52,366.16 Q606.5,363.5 604,364" stroke="#333" stroke-width="1.12" fill="none"/><path d="M572.8,361.3 L572.8,322.5 L634,322.8 L638.72,324.79 L636.70,326.19 L634.73,327.66 L632.80,329.19 L630.92,330.79 L629.10,332.44 L627.33,334.14 L625.61,335.90 L623.95,337.71 L622.34,339.58 L620.80,341.49 L619.32,343.46 L617.89,345.46 L616.54,347.51 L615.24,349.61 L614.02,351.74 L612.86,353.91 L611.77,356.11 L610.75,358.35 L609.80,360.62 L608.92,362.92" stroke="#333" stroke-width="0.56" fill="none"/><path d="M671.92,314.44 L669.77,314.77 L667.63,315.17 L665.51,315.62 L663.39,316.14 L661.30,316.72 L659.22,317.35 L657.16,318.05 L655.12,318.81 L653.10,319.62 L651.10,320.49 L649.14,321.41 L647.20,322.40 L645.28,323.44 L643.40,324.53 L641.55,325.67 L639.74,326.87 L637.96,328.12 L636.21,329.42 L634.51,330.77 L632.84,332.17 L631.21,333.61 L629.63,335.10 L628.09,336.64 L626.59,338.22 L625.14,339.84 L623.74,341.50 L622.38,343.20 L621.08,344.94 L619.82,346.72 L618.62,348.53 L617.46,350.38 L616.37,352.25 L615.32,354.16 L614.33,356.10 L613.40,358.06 L612.52,360.05 L611.70,362.07 L610.94,364.11 L610.24,366.16 L609.59,368.24 L609.01,370.34 L608.48,372.45 L608.02,374.57 L607.62,376.71 L607.28,378.86 L607.00,381.02 L606.78,383.18 L606.62,385.35 L606.53,387.52 L606.50,389.70 L606.5,425" stroke="#333" stroke-width="0.80" fill="none"/><path d="M672.23,316.62 L670.14,316.94 L668.06,317.33 L666.00,317.77 L663.95,318.27 L661.91,318.83 L659.89,319.45 L657.89,320.12 L655.91,320.86 L653.95,321.65 L652.01,322.49 L650.10,323.39 L648.22,324.35 L646.36,325.35 L644.53,326.41 L642.74,327.53 L640.98,328.69 L639.25,329.90 L637.55,331.17 L635.90,332.48 L634.28,333.83 L632.70,335.24 L631.16,336.68 L629.66,338.18 L628.21,339.71 L626.80,341.28 L625.44,342.90 L624.12,344.55 L622.86,346.24 L621.64,347.96 L620.47,349.72 L619.35,351.51 L618.28,353.34 L617.27,355.19 L616.31,357.07 L615.40,358.98 L614.55,360.91 L613.75,362.87 L613.01,364.85 L612.33,366.85 L611.70,368.86 L611.14,370.90 L610.63,372.95 L610.18,375.01 L609.79,377.09 L609.45,379.17 L609.18,381.27 L608.97,383.37 L608.82,385.48 L608.73,387.59 L608.70,389.70 L608.7,425" stroke="#333" stroke-width="1.04" fill="none"/><path d="M672.55,318.90 L670.53,319.21 L668.51,319.58 L666.51,320.01 L664.53,320.50 L662.55,321.04 L660.60,321.64 L658.66,322.29 L656.74,323.00 L654.84,323.77 L652.96,324.59 L651.11,325.46 L649.29,326.38 L647.49,327.36 L645.72,328.39 L643.98,329.46 L642.27,330.59 L640.59,331.77 L638.95,332.99 L637.35,334.26 L635.78,335.57 L634.25,336.93 L632.76,338.34 L631.31,339.78 L629.90,341.27 L628.54,342.79 L627.22,344.36 L625.94,345.96 L624.71,347.59 L623.53,349.26 L622.40,350.97 L621.32,352.70 L620.28,354.47 L619.30,356.27 L618.37,358.09 L617.49,359.94 L616.66,361.81 L615.89,363.70 L615.18,365.62 L614.51,367.56 L613.91,369.51 L613.36,371.48 L612.87,373.47 L612.43,375.47 L612.05,377.48 L611.73,379.50 L611.47,381.53 L611.26,383.57 L611.12,385.61 L611.03,387.65 L611.00,389.70 L611,386" stroke="#333" stroke-width="0.72" fill="none"/><path d="M667.2,295 L667.2,307" stroke="#333" stroke-width="0.72" fill="none"/><path d="M670,308.6 L670,343.8" stroke="#333" stroke-width="0.80" fill="none"/><path d="M662.8,319 L662.8,343.5" stroke="#333" stroke-width="0.64" fill="none"/><path d="M676,318 L676,343.5" stroke="#333" stroke-width="0.48" fill="none"/><path d="M572.8,361.3 L604.5,361.3" stroke="#333" stroke-width="0.64" fill="none"/><path d="M592.1,322.8 L608.8,332.7 L608.8,348.8 L592.1,358.7 L576.1,348.8 L576.1,332.7 Z" stroke="#333" stroke-width="0.88" fill="none"/><path d="M568.7,401 L568.7,371.5 Q568.7,368.7 571.5,368.7 L603,368.7 Q606,368.7 606,371.5 L606,400 Q606,403 603,403 L571.5,403 Q568.7,403 568.7,401 Z" stroke="#333" stroke-width="1.04" fill="none"/><path d="M571.5,372 L571.5,399 L603,399" stroke="#333" stroke-width="0.56" fill="none"/><path d="M571,371 L603.5,371" stroke="#333" stroke-width="0.80" fill="none"/><path d="M603.3,372 L603.3,399" stroke="#333" stroke-width="0.64" fill="none"/><path d="M610.5,406.7 L569.6,408.6 L569.6,420.3 L610.5,419.6" stroke="#333" stroke-width="1.04" fill="none"/><path d="M572,409.20000000000005 L572,419.7" stroke="#333" stroke-width="0.88" fill="none"/><path d="M610.5,423.2 L569.6,425 L569.6,434.6 L610.5,432.8" stroke="#333" stroke-width="1.04" fill="none"/><path d="M572,425.6 L572,434.0" stroke="#333" stroke-width="0.88" fill="none"/><path d="M610.5,436.8 L569.6,438.3 L569.6,443.4 L610.5,441.9" stroke="#333" stroke-width="1.04" fill="none"/><path d="M572,438.90000000000003 L572,442.79999999999995" stroke="#333" stroke-width="0.88" fill="none"/></g>
<g transform="translate(879.7,388.0) scale(0.984) translate(-652.7,-384.7)"><g transform="translate(0,0)"><path d="M603.3,336.8 L603.3,334.5 L592.1,328.2 L580.5,335 L580.5,338.8 L592.1,345.3 M591.2,336.5 L603.3,343.2 L603.3,347 L592.1,353.8 L580.5,347 L580.5,344.8" stroke="#262626" stroke-width="3.0" fill="none"/><path d="M603.3,336.8 L603.3,334.5 L592.1,328.2 L580.5,335 L580.5,338.8 L592.1,345.3 M591.2,336.5 L603.3,343.2 L603.3,347 L592.1,353.8 L580.5,347 L580.5,344.8" stroke="#fff" stroke-width="1.1" fill="none"/></g></g>
<g transform="translate(879.7,388.0) scale(0.984) translate(-652.7,-384.7)" opacity="1.0"><path d="M611.5,386 C613,368 624,352 638.7,346 L676,346 C686,346 692,352 692.5,362 L692.5,429.6 L683.5,466 Q682.7,468.3 680,468.3 L624,468.3 Q620.5,468.3 619.5,465 L611.5,428 Z" stroke="#222" stroke-width="1.35" fill="#fff"/><path d="M612.5,388 C616,369 626,354 640,349 L676,349" stroke="#222" stroke-width="0.63" fill="none"/><path d="M633.3,402.4 L692.5,402.4" stroke="#222" stroke-width="0.99" fill="none"/><path d="M633.3,394 L633.3,402.4" stroke="#222" stroke-width="0.72" fill="none"/><path d="M611.5,429.6 L692.5,429.6" stroke="#222" stroke-width="0.99" fill="none"/><path d="M617,454.4 L687,454.4" stroke="#222" stroke-width="0.99" fill="none"/><path d="M619,460 L685,460" stroke="#222" stroke-width="0.72" fill="none"/><path d="M612.5,387.3 L636,406.5 Q640,410.5 636,414 L612.5,424.7" stroke="#222" stroke-width="0.99" fill="none"/><path d="M614,390.5 L633,406.5 Q636,410.5 633,413.5 L614,421.5" stroke="#222" stroke-width="0.63" fill="none"/><path d="M619.5,460 L624,468" stroke="#222" stroke-width="0.81" fill="none"/><circle cx="652.7" cy="384.7" r="10.4" stroke="#222" stroke-width="1.62" fill="none"/><circle cx="652.7" cy="384.7" r="4.7" stroke="#222" stroke-width="1.44" fill="none"/><path d="M654.4,468.3 L654.4,523 Q654.4,524.8 656.4,524.8 L666.7,524.8 Q668.7,524.8 668.7,523 L668.7,468.3" stroke="#222" stroke-width="1.17" fill="none"/><path d="M648,490.5 L648,487.5 L675.3,487.5 L675.3,490.5 Z" stroke="#222" stroke-width="1.17" fill="none"/><path d="M649.5,490.5 L649.5,493 L674,493 L674,490.5" stroke="#222" stroke-width="0.72" fill="none"/><path d="M650,493 L650,503.5 Q650,504.7 651.5,504.7 L672,504.7 Q673.3,504.7 673.3,503.5 L673.3,493" stroke="#222" stroke-width="1.26" fill="none"/><path d="M661.6,493 L661.6,504.7" stroke="#222" stroke-width="0.99" fill="none"/></g>
<g transform="translate(879.7,388.0) rotate(-6.8) scale(0.984) translate(-652.7,-384.7)" opacity="1.0"><circle cx="677.1" cy="360.4" r="10" stroke="#777" stroke-width="1.26" fill="none"/><circle cx="677.1" cy="360.4" r="4.7" stroke="#777" stroke-width="1.12" fill="none"/></g>
<g transform="translate(879.7,388.0) rotate(6.8) scale(0.984) translate(-652.7,-384.7)" opacity="1.0"><circle cx="677.1" cy="360.4" r="10" stroke="#777" stroke-width="1.26" fill="none"/><circle cx="677.1" cy="360.4" r="4.7" stroke="#777" stroke-width="1.12" fill="none"/></g>
<g transform="translate(879.7,388.0) scale(0.984) translate(-652.7,-384.7)" opacity="1.0"><circle cx="677.1" cy="360.4" r="10" stroke="#262626" stroke-width="1.71" fill="none"/><circle cx="677.1" cy="360.4" r="4.7" stroke="#262626" stroke-width="1.52" fill="none"/></g>
<g transform="translate(791.2,130.5) scale(0.635,1)"><text x="0" y="0" text-anchor="start" font-family="Liberation Sans" font-weight="bold" font-size="20.5" stroke="#111" stroke-width="0.25" fill="#111">6</text></g>
<g transform="translate(799.6,124.5) scale(0.75,1)"><text x="0" y="0" text-anchor="start" font-family="Liberation Sans" font-weight="bold" font-size="10.5" stroke="#111" stroke-width="0.25" fill="#111">0</text></g>
<g transform="translate(744.4,145.5) scale(0.635,1)"><text x="0" y="0" text-anchor="start" font-family="Liberation Sans" font-weight="bold" font-size="20.5" stroke="#111" stroke-width="0.25" fill="#111">6</text></g>
<g transform="translate(752.2,139) scale(0.75,1)"><text x="0" y="0" text-anchor="start" font-family="Liberation Sans" font-weight="bold" font-size="10.5" stroke="#111" stroke-width="0.25" fill="#111">0</text></g>
<g transform="translate(735.4,138.5) scale(0.9,1)"><text x="0" y="0" text-anchor="start" font-family="Liberation Sans" font-weight="bold" font-size="15" stroke="#111" stroke-width="0.25" fill="#111">*</text></g>
<line x1="780.30" y1="114.50" x2="780.30" y2="159.50" stroke="#555" stroke-width="1.0" />
<path d="M784,136.5 Q800,139 811,151.5" stroke="#111" stroke-width="1.6" fill="none" />
<path d="M812.00,152.50 L803.36,148.26 L806.80,146.96 L808.32,143.61 Z" fill="#111" stroke="none"/>
<path d="M777,136.5 Q758,142 752.5,166" stroke="#111" stroke-width="1.6" fill="none" />
<path d="M752.00,167.50 L749.97,158.10 L753.13,159.98 L756.70,159.10 Z" fill="#111" stroke="none"/>
<text x="515.5" y="671.8" font-family="Liberation Sans" font-size="16" fill="#222" textLength="416.5" lengthAdjust="spacingAndGlyphs">Lamp suitable for horizontal or vertical mounting position.</text>
</svg></body></html>
